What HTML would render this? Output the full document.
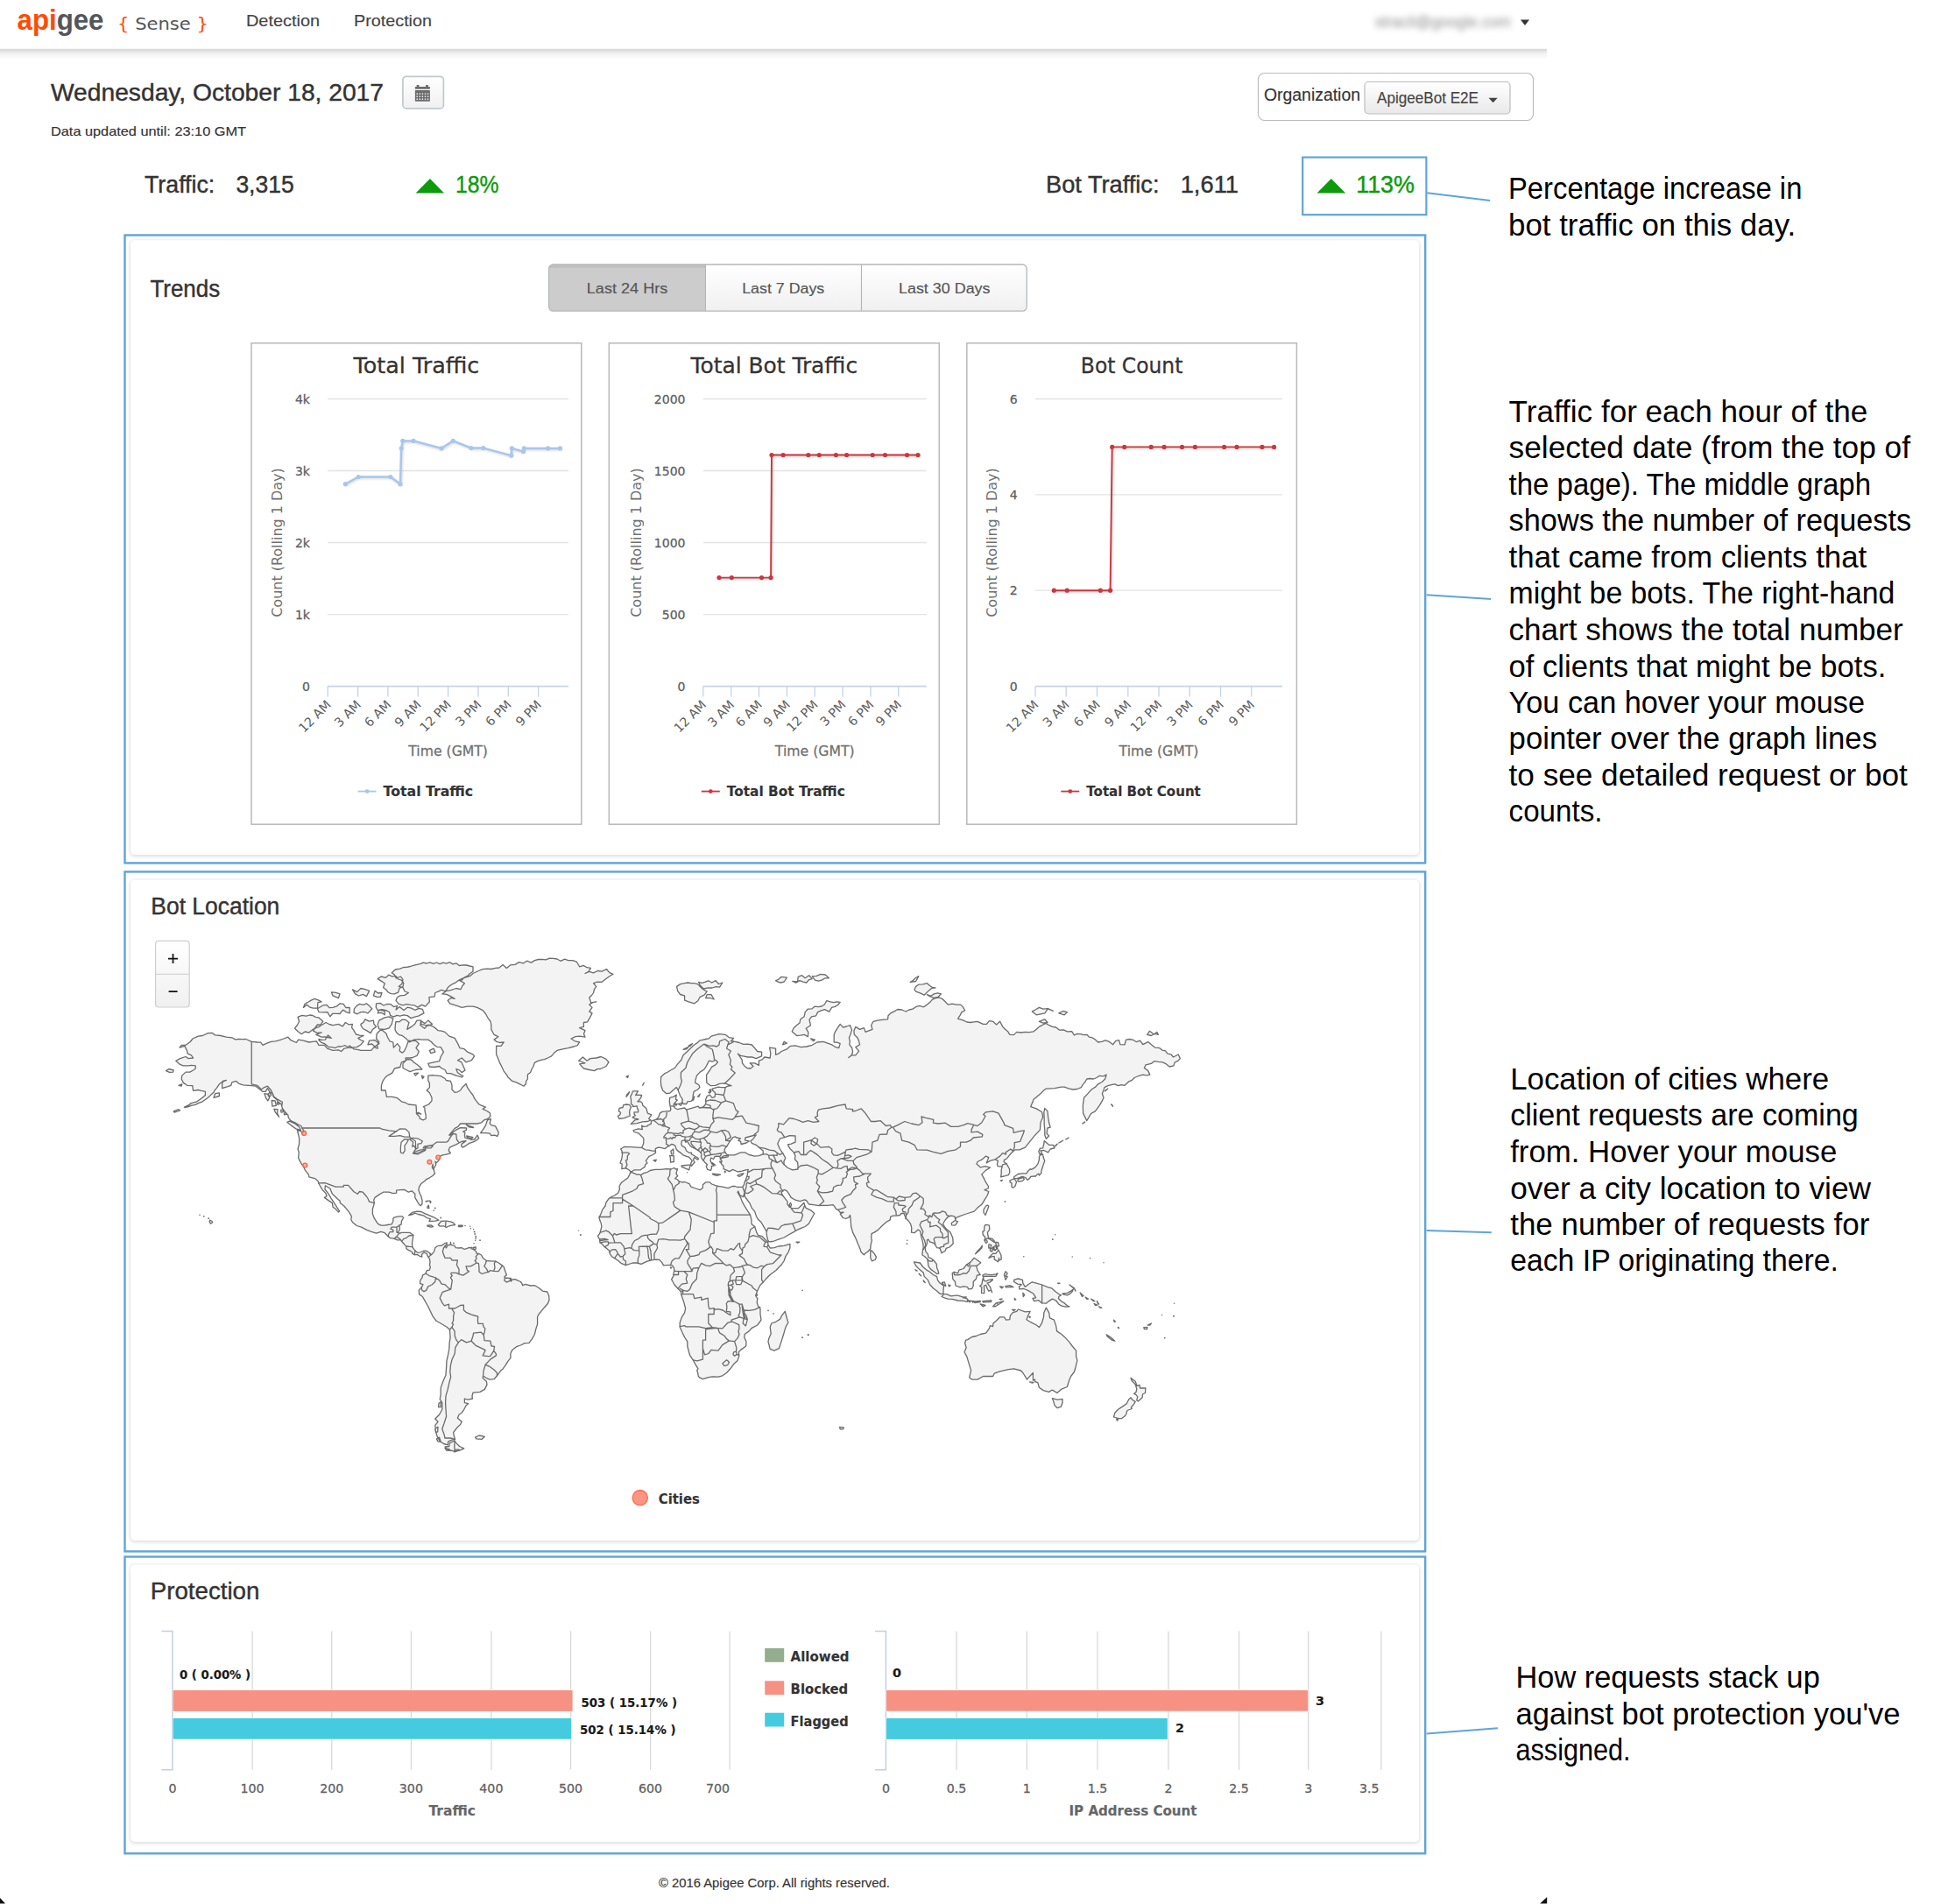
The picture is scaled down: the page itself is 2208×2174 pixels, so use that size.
<!DOCTYPE html>
<html lang="en"><head><meta charset="utf-8"><title>Apigee Sense - Detection</title>
<style>
html,body{margin:0;padding:0;background:#fff;}
body{width:2208px;height:2174px;overflow:hidden;position:relative;}
svg{position:absolute;left:0;top:0;display:block;}
text{white-space:pre;}
.l{font-family:"Liberation Sans", sans-serif;}
.h{font-family:"DejaVu Sans", "Liberation Sans", sans-serif;}
.g{font-family:"Liberation Sans", sans-serif;}
</style></head><body>
<svg width="2208" height="2174" viewBox="0 0 2208 2174">
<defs>
<linearGradient id="navsh" x1="0" y1="0" x2="0" y2="1"><stop offset="0" stop-color="#000" stop-opacity="0.16"/><stop offset="0.45" stop-color="#000" stop-opacity="0.05"/><stop offset="1" stop-color="#000" stop-opacity="0"/></linearGradient>
<linearGradient id="btn" x1="0" y1="0" x2="0" y2="1"><stop offset="0" stop-color="#ffffff"/><stop offset="1" stop-color="#e9e9e9"/></linearGradient>
<linearGradient id="btn2" x1="0" y1="0" x2="0" y2="1"><stop offset="0" stop-color="#ffffff"/><stop offset="1" stop-color="#f0f0f0"/></linearGradient>
<filter id="blur" x="-10%" y="-50%" width="120%" height="200%"><feGaussianBlur stdDeviation="3.8"/></filter>
<filter id="soft" x="-2%" y="-3%" width="104%" height="106%"><feGaussianBlur stdDeviation="2.3"/></filter>
<filter id="lsh" x="-5%" y="-5%" width="110%" height="110%"><feGaussianBlur stdDeviation="0.8"/></filter>
</defs>

<rect x="0.0" y="56.0" width="1766.0" height="12.0" fill="url(#navsh)"/>
<rect x="0.0" y="0.0" width="1766.0" height="56.0" fill="#fff"/>
<line x1="0.0" y1="56.3" x2="1766.0" y2="56.3" stroke="#d9d9d9" stroke-width="1" />
<text class="l" x="19.5" y="33.6" font-size="33" font-weight="bold" textLength="99" lengthAdjust="spacingAndGlyphs"><tspan fill="#fc4c02">api</tspan><tspan fill="#53565a">gee</tspan></text>
<text class="h" x="134.0" y="34.2" font-size="19.4" textLength="104" lengthAdjust="spacingAndGlyphs"><tspan fill="#fc4c02">{</tspan><tspan fill="#53565a"> Sense </tspan><tspan fill="#fc4c02">}</tspan></text>
<text class="l" x="281.0" y="29.8" font-size="18.5" fill="#444" textLength="84.0" lengthAdjust="spacingAndGlyphs" stroke="#444" stroke-width="0.15">Detection</text>
<text class="l" x="404.0" y="29.8" font-size="18.5" fill="#444" textLength="89.0" lengthAdjust="spacingAndGlyphs" stroke="#444" stroke-width="0.15">Protection</text>
<g filter="url(#blur)" opacity="0.62">
<text class="l" x="1570.0" y="31.0" font-size="18.5" fill="#555" textLength="155.0" lengthAdjust="spacingAndGlyphs" stroke="#555" stroke-width="0.15">stracli@google.com</text>
</g>
<path d="M1736 22.5h10l-5 6.5z" fill="#333"/>
<text class="l" x="58.0" y="115.0" font-size="28" fill="#333" textLength="380.0" lengthAdjust="spacingAndGlyphs" stroke="#333" stroke-width="0.42">Wednesday, October 18, 2017</text>
<rect x="459.9" y="87.3" width="46.5" height="36.6" fill="url(#btn2)" stroke="#c2c9cd" stroke-width="1.7" rx="4"/>
<g fill="#6c6c6c"><rect x="473.9" y="98.9" width="17" height="2.8" rx="0.6"/><rect x="475.7" y="97.0" width="2.7" height="3"/><rect x="486.1" y="97.0" width="2.7" height="3"/><rect x="473.9" y="103.1" width="17" height="12.7" rx="0.6"/></g>
<g fill="#fff">
<rect x="475.5" y="106.4" width="1.4" height="1.4"/>
<rect x="478.6" y="106.4" width="1.4" height="1.4"/>
<rect x="481.7" y="106.4" width="1.4" height="1.4"/>
<rect x="484.8" y="106.4" width="1.4" height="1.4"/>
<rect x="487.9" y="106.4" width="1.4" height="1.4"/>
<rect x="475.5" y="109.5" width="1.4" height="1.4"/>
<rect x="478.6" y="109.5" width="1.4" height="1.4"/>
<rect x="481.7" y="109.5" width="1.4" height="1.4"/>
<rect x="484.8" y="109.5" width="1.4" height="1.4"/>
<rect x="487.9" y="109.5" width="1.4" height="1.4"/>
<rect x="475.5" y="112.5" width="1.4" height="1.4"/>
<rect x="478.6" y="112.5" width="1.4" height="1.4"/>
<rect x="481.7" y="112.5" width="1.4" height="1.4"/>
<rect x="484.8" y="112.5" width="1.4" height="1.4"/>
<rect x="487.9" y="112.5" width="1.4" height="1.4"/>
</g>
<text class="l" x="58.0" y="155.0" font-size="14.5" fill="#333" textLength="223.0" lengthAdjust="spacingAndGlyphs" stroke="#333" stroke-width="0.15">Data updated until: 23:10 GMT</text>
<rect x="1436.5" y="83.5" width="314.0" height="54.0" fill="#fff" stroke="#bcbcbc" stroke-width="1.2" rx="7"/>
<text class="l" x="1443.0" y="114.5" font-size="19.5" fill="#333" textLength="110.0" lengthAdjust="spacingAndGlyphs" stroke="#333" stroke-width="0.15">Organization</text>
<rect x="1558.0" y="93.5" width="166.0" height="36.5" fill="url(#btn)" stroke="#bcbcbc" stroke-width="1.2" rx="4.5"/>
<text class="l" x="1572.0" y="117.8" font-size="17.5" fill="#444" textLength="116.0" lengthAdjust="spacingAndGlyphs" stroke="#444" stroke-width="0.15">ApigeeBot E2E</text>
<path d="M1699.5 111.7h10.2l-5.1 5.6z" fill="#444"/>
<text class="l" x="165.0" y="220.3" font-size="27" fill="#333" textLength="80.3" lengthAdjust="spacingAndGlyphs" stroke="#333" stroke-width="0.42">Traffic:</text>
<text class="l" x="269.4" y="220.3" font-size="27" fill="#333" textLength="66.3" lengthAdjust="spacingAndGlyphs" stroke="#333" stroke-width="0.42">3,315</text>
<path d="M474.6 220.6L490.9 204L507.1 220.6z" fill="#0d9b0d"/>
<text class="l" x="520.0" y="220.3" font-size="27" fill="#0d9b0d" textLength="49.5" lengthAdjust="spacingAndGlyphs" stroke="#0d9b0d" stroke-width="0.42">18%</text>
<text class="l" x="1194.0" y="220.3" font-size="27" fill="#333" textLength="129.5" lengthAdjust="spacingAndGlyphs" stroke="#333" stroke-width="0.42">Bot Traffic:</text>
<text class="l" x="1347.7" y="220.3" font-size="27" fill="#333" textLength="66.3" lengthAdjust="spacingAndGlyphs" stroke="#333" stroke-width="0.42">1,611</text>
<rect x="1487.2" y="179.6" width="141.2" height="65.6" fill="none" stroke="#60a4d8" stroke-width="2.2"/>
<path d="M1503.5 220.6L1519.8 204L1536.2 220.6z" fill="#0d9b0d"/>
<text class="l" x="1548.2" y="220.3" font-size="27" fill="#0d9b0d" textLength="66.8" lengthAdjust="spacingAndGlyphs" stroke="#0d9b0d" stroke-width="0.42">113%</text>
<rect x="142.5" y="268.5" width="1484.7" height="716.9" fill="none" stroke="#60a4d8" stroke-width="2.4"/>
<rect x="148.7" y="274.6" width="1471.8" height="702.9" fill="#000" rx="5" opacity="0.15" filter="url(#soft)"/>
<rect x="149.2" y="274.3" width="1470.8" height="701.7" fill="#fff" rx="4.5"/>
<text class="l" x="171.4" y="339.1" font-size="28.4" fill="#333" textLength="79.7" lengthAdjust="spacingAndGlyphs" stroke="#333" stroke-width="0.42">Trends</text>
<rect x="142.5" y="995.4" width="1484.7" height="776.0" fill="none" stroke="#60a4d8" stroke-width="2.4"/>
<rect x="148.7" y="1005.1" width="1471.8" height="755.3" fill="#000" rx="5" opacity="0.15" filter="url(#soft)"/>
<rect x="149.2" y="1004.8" width="1470.8" height="754.1" fill="#fff" rx="4.5"/>
<text class="l" x="172.3" y="1044.4" font-size="28.4" fill="#333" textLength="147.0" lengthAdjust="spacingAndGlyphs" stroke="#333" stroke-width="0.42">Bot Location</text>
<rect x="142.5" y="1777.5" width="1484.7" height="338.8" fill="none" stroke="#60a4d8" stroke-width="2.4"/>
<rect x="148.7" y="1786.8" width="1471.8" height="317.8" fill="#000" rx="5" opacity="0.15" filter="url(#soft)"/>
<rect x="149.2" y="1786.5" width="1470.8" height="316.6" fill="#fff" rx="4.5"/>
<text class="l" x="171.8" y="1825.7" font-size="28.4" fill="#333" textLength="124.6" lengthAdjust="spacingAndGlyphs" stroke="#333" stroke-width="0.42">Protection</text>
<clipPath id="tabclip"><rect x="626.6" y="302.0" width="545.6" height="53.2" rx="5"/></clipPath>
<g clip-path="url(#tabclip)">
<rect x="626.6" y="302.0" width="545.6" height="53.2" fill="url(#btn2)"/>
<rect x="626.6" y="302.0" width="178.8" height="53.2" fill="#cccccc"/>
<rect x="626.6" y="302.0" width="178.8" height="4.0" fill="#000" opacity="0.06"/>
</g>
<rect x="626.6" y="302.0" width="545.6" height="53.2" fill="none" stroke="#b4b8ba" stroke-width="1.3" rx="5"/>
<line x1="805.4" y1="302.0" x2="805.4" y2="355.2" stroke="#b4b8ba" stroke-width="1.2" />
<line x1="983.5" y1="302.0" x2="983.5" y2="355.2" stroke="#b4b8ba" stroke-width="1.2" />
<text class="l" x="669.8" y="334.8" font-size="17.3" fill="#555" textLength="92.5" lengthAdjust="spacingAndGlyphs" stroke="#555" stroke-width="0.15">Last 24 Hrs</text>
<text class="l" x="847.2" y="334.8" font-size="17.3" fill="#555" textLength="94.0" lengthAdjust="spacingAndGlyphs" stroke="#555" stroke-width="0.15">Last 7 Days</text>
<text class="l" x="1026.0" y="334.8" font-size="17.3" fill="#555" textLength="104.5" lengthAdjust="spacingAndGlyphs" stroke="#555" stroke-width="0.15">Last 30 Days</text>
<rect x="287.0" y="391.8" width="376.8" height="549.4" fill="#fff" stroke="#b9b9b9" stroke-width="1.5"/>
<text class="h" x="475.4" y="425.7" font-size="24.5" fill="#333" text-anchor="middle" textLength="143.8" lengthAdjust="spacingAndGlyphs" stroke="#333" stroke-width="0.28">Total Traffic</text>
<line x1="374.2" y1="455.5" x2="649.0" y2="455.5" stroke="#e3e3e3" stroke-width="1.3" />
<text class="h" x="353.9" y="460.7" font-size="14" fill="#606060" text-anchor="end" stroke="#606060" stroke-width="0.28">4k</text>
<line x1="374.2" y1="537.5" x2="649.0" y2="537.5" stroke="#e3e3e3" stroke-width="1.3" />
<text class="h" x="353.9" y="542.7" font-size="14" fill="#606060" text-anchor="end" stroke="#606060" stroke-width="0.28">3k</text>
<line x1="374.2" y1="619.5" x2="649.0" y2="619.5" stroke="#e3e3e3" stroke-width="1.3" />
<text class="h" x="353.9" y="624.8" font-size="14" fill="#606060" text-anchor="end" stroke="#606060" stroke-width="0.28">2k</text>
<line x1="374.2" y1="701.6" x2="649.0" y2="701.6" stroke="#e3e3e3" stroke-width="1.3" />
<text class="h" x="353.9" y="706.8" font-size="14" fill="#606060" text-anchor="end" stroke="#606060" stroke-width="0.28">1k</text>
<text class="h" x="353.9" y="788.8" font-size="14" fill="#606060" text-anchor="end" stroke="#606060" stroke-width="0.28">0</text>
<line x1="374.2" y1="783.6" x2="649.0" y2="783.6" stroke="#c6d3e4" stroke-width="1.6" />
<line x1="374.2" y1="783.6" x2="374.2" y2="795.6" stroke="#c6d3e4" stroke-width="1.3" />
<text class="h" font-size="14.3" fill="#606060" text-anchor="end" transform="translate(378.7,805.6) rotate(-45)">12 AM</text>
<line x1="408.6" y1="783.6" x2="408.6" y2="795.6" stroke="#c6d3e4" stroke-width="1.3" />
<text class="h" font-size="14.3" fill="#606060" text-anchor="end" transform="translate(413.1,805.6) rotate(-45)">3 AM</text>
<line x1="442.9" y1="783.6" x2="442.9" y2="795.6" stroke="#c6d3e4" stroke-width="1.3" />
<text class="h" font-size="14.3" fill="#606060" text-anchor="end" transform="translate(447.4,805.6) rotate(-45)">6 AM</text>
<line x1="477.2" y1="783.6" x2="477.2" y2="795.6" stroke="#c6d3e4" stroke-width="1.3" />
<text class="h" font-size="14.3" fill="#606060" text-anchor="end" transform="translate(481.8,805.6) rotate(-45)">9 AM</text>
<line x1="511.6" y1="783.6" x2="511.6" y2="795.6" stroke="#c6d3e4" stroke-width="1.3" />
<text class="h" font-size="14.3" fill="#606060" text-anchor="end" transform="translate(516.1,805.6) rotate(-45)">12 PM</text>
<line x1="546.0" y1="783.6" x2="546.0" y2="795.6" stroke="#c6d3e4" stroke-width="1.3" />
<text class="h" font-size="14.3" fill="#606060" text-anchor="end" transform="translate(550.5,805.6) rotate(-45)">3 PM</text>
<line x1="580.3" y1="783.6" x2="580.3" y2="795.6" stroke="#c6d3e4" stroke-width="1.3" />
<text class="h" font-size="14.3" fill="#606060" text-anchor="end" transform="translate(584.8,805.6) rotate(-45)">6 PM</text>
<line x1="614.6" y1="783.6" x2="614.6" y2="795.6" stroke="#c6d3e4" stroke-width="1.3" />
<text class="h" font-size="14.3" fill="#606060" text-anchor="end" transform="translate(619.1,805.6) rotate(-45)">9 PM</text>
<text class="h" x="511.6" y="862.6" font-size="16.2" fill="#707070" text-anchor="middle" textLength="90.8" lengthAdjust="spacingAndGlyphs" stroke="#707070" stroke-width="0.28">Time (GMT)</text>
<text class="h" font-size="16.2" fill="#707070" text-anchor="middle" textLength="170.6" lengthAdjust="spacingAndGlyphs" transform="translate(321.8,619.5) rotate(-90)">Count (Rolling 1 Day)</text>
<path d="M394.3 552.7 L409.2 544.5 L445.8 544.5 L457.0 552.7 L458.2 511.9 L459.8 503.4 L472.0 503.4 L504.0 511.9 L517.3 503.4 L538.0 511.6 L551.8 511.6 L583.7 520.1 L584.3 511.9 L597.4 515.5 L598.4 511.9 L625.5 511.9 L639.5 511.9" transform="translate(1,1.3)" fill="none" stroke="#000" stroke-opacity="0.13" stroke-width="3" stroke-linejoin="round" stroke-linecap="round" filter="url(#lsh)"/>
<path d="M394.3 552.7 L409.2 544.5 L445.8 544.5 L457.0 552.7 L458.2 511.9 L459.8 503.4 L472.0 503.4 L504.0 511.9 L517.3 503.4 L538.0 511.6 L551.8 511.6 L583.7 520.1 L584.3 511.9 L597.4 515.5 L598.4 511.9 L625.5 511.9 L639.5 511.9" fill="none" stroke="#a9c6ee" stroke-width="2.5" stroke-linejoin="round" stroke-linecap="round"/>
<circle cx="394.3" cy="552.7" r="2.6" fill="#a9c6ee"/>
<circle cx="409.2" cy="544.5" r="2.6" fill="#a9c6ee"/>
<circle cx="445.8" cy="544.5" r="2.6" fill="#a9c6ee"/>
<circle cx="457.0" cy="552.7" r="2.6" fill="#a9c6ee"/>
<circle cx="458.2" cy="511.9" r="2.6" fill="#a9c6ee"/>
<circle cx="459.8" cy="503.4" r="2.6" fill="#a9c6ee"/>
<circle cx="472.0" cy="503.4" r="2.6" fill="#a9c6ee"/>
<circle cx="504.0" cy="511.9" r="2.6" fill="#a9c6ee"/>
<circle cx="517.3" cy="503.4" r="2.6" fill="#a9c6ee"/>
<circle cx="538.0" cy="511.6" r="2.6" fill="#a9c6ee"/>
<circle cx="551.8" cy="511.6" r="2.6" fill="#a9c6ee"/>
<circle cx="583.7" cy="520.1" r="2.6" fill="#a9c6ee"/>
<circle cx="584.3" cy="511.9" r="2.6" fill="#a9c6ee"/>
<circle cx="597.4" cy="515.5" r="2.6" fill="#a9c6ee"/>
<circle cx="598.4" cy="511.9" r="2.6" fill="#a9c6ee"/>
<circle cx="625.5" cy="511.9" r="2.6" fill="#a9c6ee"/>
<circle cx="639.5" cy="511.9" r="2.6" fill="#a9c6ee"/>
<line x1="408.6" y1="903.6" x2="429.6" y2="903.6" stroke="#a9c6ee" stroke-width="1.8" />
<circle cx="419.1" cy="903.6" r="2.4" fill="#a9c6ee"/>
<text class="h" x="437.6" y="909.3" font-size="16.2" fill="#333" font-weight="bold" textLength="102.6" lengthAdjust="spacingAndGlyphs" stroke="#333" stroke-width="0.15">Total Traffic</text>
<rect x="695.3" y="391.8" width="377.0" height="549.4" fill="#fff" stroke="#b9b9b9" stroke-width="1.5"/>
<text class="h" x="883.8" y="425.7" font-size="24.5" fill="#333" text-anchor="middle" textLength="190.5" lengthAdjust="spacingAndGlyphs" stroke="#333" stroke-width="0.28">Total Bot Traffic</text>
<line x1="802.8" y1="455.5" x2="1057.7" y2="455.5" stroke="#e3e3e3" stroke-width="1.3" />
<text class="h" x="782.5" y="460.7" font-size="14" fill="#606060" text-anchor="end" stroke="#606060" stroke-width="0.28">2000</text>
<line x1="802.8" y1="537.5" x2="1057.7" y2="537.5" stroke="#e3e3e3" stroke-width="1.3" />
<text class="h" x="782.5" y="542.7" font-size="14" fill="#606060" text-anchor="end" stroke="#606060" stroke-width="0.28">1500</text>
<line x1="802.8" y1="619.5" x2="1057.7" y2="619.5" stroke="#e3e3e3" stroke-width="1.3" />
<text class="h" x="782.5" y="624.8" font-size="14" fill="#606060" text-anchor="end" stroke="#606060" stroke-width="0.28">1000</text>
<line x1="802.8" y1="701.6" x2="1057.7" y2="701.6" stroke="#e3e3e3" stroke-width="1.3" />
<text class="h" x="782.5" y="706.8" font-size="14" fill="#606060" text-anchor="end" stroke="#606060" stroke-width="0.28">500</text>
<text class="h" x="782.5" y="788.8" font-size="14" fill="#606060" text-anchor="end" stroke="#606060" stroke-width="0.28">0</text>
<line x1="802.8" y1="783.6" x2="1057.7" y2="783.6" stroke="#c6d3e4" stroke-width="1.6" />
<line x1="802.8" y1="783.6" x2="802.8" y2="795.6" stroke="#c6d3e4" stroke-width="1.3" />
<text class="h" font-size="14.3" fill="#606060" text-anchor="end" transform="translate(807.3,805.6) rotate(-45)">12 AM</text>
<line x1="834.7" y1="783.6" x2="834.7" y2="795.6" stroke="#c6d3e4" stroke-width="1.3" />
<text class="h" font-size="14.3" fill="#606060" text-anchor="end" transform="translate(839.2,805.6) rotate(-45)">3 AM</text>
<line x1="866.5" y1="783.6" x2="866.5" y2="795.6" stroke="#c6d3e4" stroke-width="1.3" />
<text class="h" font-size="14.3" fill="#606060" text-anchor="end" transform="translate(871.0,805.6) rotate(-45)">6 AM</text>
<line x1="898.4" y1="783.6" x2="898.4" y2="795.6" stroke="#c6d3e4" stroke-width="1.3" />
<text class="h" font-size="14.3" fill="#606060" text-anchor="end" transform="translate(902.9,805.6) rotate(-45)">9 AM</text>
<line x1="930.2" y1="783.6" x2="930.2" y2="795.6" stroke="#c6d3e4" stroke-width="1.3" />
<text class="h" font-size="14.3" fill="#606060" text-anchor="end" transform="translate(934.8,805.6) rotate(-45)">12 PM</text>
<line x1="962.1" y1="783.6" x2="962.1" y2="795.6" stroke="#c6d3e4" stroke-width="1.3" />
<text class="h" font-size="14.3" fill="#606060" text-anchor="end" transform="translate(966.6,805.6) rotate(-45)">3 PM</text>
<line x1="994.0" y1="783.6" x2="994.0" y2="795.6" stroke="#c6d3e4" stroke-width="1.3" />
<text class="h" font-size="14.3" fill="#606060" text-anchor="end" transform="translate(998.5,805.6) rotate(-45)">6 PM</text>
<line x1="1025.8" y1="783.6" x2="1025.8" y2="795.6" stroke="#c6d3e4" stroke-width="1.3" />
<text class="h" font-size="14.3" fill="#606060" text-anchor="end" transform="translate(1030.3,805.6) rotate(-45)">9 PM</text>
<text class="h" x="930.2" y="862.6" font-size="16.2" fill="#707070" text-anchor="middle" textLength="90.8" lengthAdjust="spacingAndGlyphs" stroke="#707070" stroke-width="0.28">Time (GMT)</text>
<text class="h" font-size="16.2" fill="#707070" text-anchor="middle" textLength="170.6" lengthAdjust="spacingAndGlyphs" transform="translate(731.8,619.5) rotate(-90)">Count (Rolling 1 Day)</text>
<path d="M821.0 659.6 L835.3 659.6 L869.5 659.6 L880.1 659.6 L881.0 519.5 L894.1 519.5 L922.8 519.5 L935.2 519.5 L954.4 519.5 L966.6 519.5 L996.2 519.5 L1010.5 519.5 L1035.5 519.5 L1048.0 519.5" transform="translate(1,1.3)" fill="none" stroke="#000" stroke-opacity="0.13" stroke-width="3" stroke-linejoin="round" stroke-linecap="round" filter="url(#lsh)"/>
<path d="M821.0 659.6 L835.3 659.6 L869.5 659.6 L880.1 659.6 L881.0 519.5 L894.1 519.5 L922.8 519.5 L935.2 519.5 L954.4 519.5 L966.6 519.5 L996.2 519.5 L1010.5 519.5 L1035.5 519.5 L1048.0 519.5" fill="none" stroke="#c9373f" stroke-width="1.9" stroke-linejoin="round" stroke-linecap="round"/>
<circle cx="821.0" cy="659.6" r="2.6" fill="#c9373f"/>
<circle cx="835.3" cy="659.6" r="2.6" fill="#c9373f"/>
<circle cx="869.5" cy="659.6" r="2.6" fill="#c9373f"/>
<circle cx="880.1" cy="659.6" r="2.6" fill="#c9373f"/>
<circle cx="881.0" cy="519.5" r="2.6" fill="#c9373f"/>
<circle cx="894.1" cy="519.5" r="2.6" fill="#c9373f"/>
<circle cx="922.8" cy="519.5" r="2.6" fill="#c9373f"/>
<circle cx="935.2" cy="519.5" r="2.6" fill="#c9373f"/>
<circle cx="954.4" cy="519.5" r="2.6" fill="#c9373f"/>
<circle cx="966.6" cy="519.5" r="2.6" fill="#c9373f"/>
<circle cx="996.2" cy="519.5" r="2.6" fill="#c9373f"/>
<circle cx="1010.5" cy="519.5" r="2.6" fill="#c9373f"/>
<circle cx="1035.5" cy="519.5" r="2.6" fill="#c9373f"/>
<circle cx="1048.0" cy="519.5" r="2.6" fill="#c9373f"/>
<line x1="800.8" y1="903.6" x2="821.8" y2="903.6" stroke="#c9373f" stroke-width="1.8" />
<circle cx="811.3" cy="903.6" r="2.4" fill="#c9373f"/>
<text class="h" x="829.8" y="909.3" font-size="16.2" fill="#333" font-weight="bold" textLength="135.0" lengthAdjust="spacingAndGlyphs" stroke="#333" stroke-width="0.15">Total Bot Traffic</text>
<rect x="1103.8" y="391.8" width="376.6" height="549.4" fill="#fff" stroke="#b9b9b9" stroke-width="1.5"/>
<text class="h" x="1292.1" y="425.7" font-size="24.5" fill="#333" text-anchor="middle" textLength="116.5" lengthAdjust="spacingAndGlyphs" stroke="#333" stroke-width="0.28">Bot Count</text>
<line x1="1182.0" y1="455.5" x2="1464.0" y2="455.5" stroke="#e3e3e3" stroke-width="1.3" />
<text class="h" x="1161.7" y="460.7" font-size="14" fill="#606060" text-anchor="end" stroke="#606060" stroke-width="0.28">6</text>
<line x1="1182.0" y1="564.9" x2="1464.0" y2="564.9" stroke="#e3e3e3" stroke-width="1.3" />
<text class="h" x="1161.7" y="570.1" font-size="14" fill="#606060" text-anchor="end" stroke="#606060" stroke-width="0.28">4</text>
<line x1="1182.0" y1="674.2" x2="1464.0" y2="674.2" stroke="#e3e3e3" stroke-width="1.3" />
<text class="h" x="1161.7" y="679.4" font-size="14" fill="#606060" text-anchor="end" stroke="#606060" stroke-width="0.28">2</text>
<text class="h" x="1161.7" y="788.8" font-size="14" fill="#606060" text-anchor="end" stroke="#606060" stroke-width="0.28">0</text>
<line x1="1182.0" y1="783.6" x2="1464.0" y2="783.6" stroke="#c6d3e4" stroke-width="1.6" />
<line x1="1182.0" y1="783.6" x2="1182.0" y2="795.6" stroke="#c6d3e4" stroke-width="1.3" />
<text class="h" font-size="14.3" fill="#606060" text-anchor="end" transform="translate(1186.5,805.6) rotate(-45)">12 AM</text>
<line x1="1217.2" y1="783.6" x2="1217.2" y2="795.6" stroke="#c6d3e4" stroke-width="1.3" />
<text class="h" font-size="14.3" fill="#606060" text-anchor="end" transform="translate(1221.8,805.6) rotate(-45)">3 AM</text>
<line x1="1252.5" y1="783.6" x2="1252.5" y2="795.6" stroke="#c6d3e4" stroke-width="1.3" />
<text class="h" font-size="14.3" fill="#606060" text-anchor="end" transform="translate(1257.0,805.6) rotate(-45)">6 AM</text>
<line x1="1287.8" y1="783.6" x2="1287.8" y2="795.6" stroke="#c6d3e4" stroke-width="1.3" />
<text class="h" font-size="14.3" fill="#606060" text-anchor="end" transform="translate(1292.2,805.6) rotate(-45)">9 AM</text>
<line x1="1323.0" y1="783.6" x2="1323.0" y2="795.6" stroke="#c6d3e4" stroke-width="1.3" />
<text class="h" font-size="14.3" fill="#606060" text-anchor="end" transform="translate(1327.5,805.6) rotate(-45)">12 PM</text>
<line x1="1358.2" y1="783.6" x2="1358.2" y2="795.6" stroke="#c6d3e4" stroke-width="1.3" />
<text class="h" font-size="14.3" fill="#606060" text-anchor="end" transform="translate(1362.8,805.6) rotate(-45)">3 PM</text>
<line x1="1393.5" y1="783.6" x2="1393.5" y2="795.6" stroke="#c6d3e4" stroke-width="1.3" />
<text class="h" font-size="14.3" fill="#606060" text-anchor="end" transform="translate(1398.0,805.6) rotate(-45)">6 PM</text>
<line x1="1428.8" y1="783.6" x2="1428.8" y2="795.6" stroke="#c6d3e4" stroke-width="1.3" />
<text class="h" font-size="14.3" fill="#606060" text-anchor="end" transform="translate(1433.2,805.6) rotate(-45)">9 PM</text>
<text class="h" x="1323.0" y="862.6" font-size="16.2" fill="#707070" text-anchor="middle" textLength="90.8" lengthAdjust="spacingAndGlyphs" stroke="#707070" stroke-width="0.28">Time (GMT)</text>
<text class="h" font-size="16.2" fill="#707070" text-anchor="middle" textLength="170.6" lengthAdjust="spacingAndGlyphs" transform="translate(1138.1,619.5) rotate(-90)">Count (Rolling 1 Day)</text>
<path d="M1203.3 674.2 L1218.2 674.2 L1256.3 674.2 L1267.6 674.2 L1269.7 510.4 L1283.7 510.4 L1314.2 510.4 L1329.1 510.4 L1349.5 510.4 L1364.4 510.4 L1397.6 510.4 L1412.0 510.4 L1440.9 510.4 L1454.6 510.4" transform="translate(1,1.3)" fill="none" stroke="#000" stroke-opacity="0.13" stroke-width="3" stroke-linejoin="round" stroke-linecap="round" filter="url(#lsh)"/>
<path d="M1203.3 674.2 L1218.2 674.2 L1256.3 674.2 L1267.6 674.2 L1269.7 510.4 L1283.7 510.4 L1314.2 510.4 L1329.1 510.4 L1349.5 510.4 L1364.4 510.4 L1397.6 510.4 L1412.0 510.4 L1440.9 510.4 L1454.6 510.4" fill="none" stroke="#c9373f" stroke-width="1.9" stroke-linejoin="round" stroke-linecap="round"/>
<circle cx="1203.3" cy="674.2" r="2.6" fill="#c9373f"/>
<circle cx="1218.2" cy="674.2" r="2.6" fill="#c9373f"/>
<circle cx="1256.3" cy="674.2" r="2.6" fill="#c9373f"/>
<circle cx="1267.6" cy="674.2" r="2.6" fill="#c9373f"/>
<circle cx="1269.7" cy="510.4" r="2.6" fill="#c9373f"/>
<circle cx="1283.7" cy="510.4" r="2.6" fill="#c9373f"/>
<circle cx="1314.2" cy="510.4" r="2.6" fill="#c9373f"/>
<circle cx="1329.1" cy="510.4" r="2.6" fill="#c9373f"/>
<circle cx="1349.5" cy="510.4" r="2.6" fill="#c9373f"/>
<circle cx="1364.4" cy="510.4" r="2.6" fill="#c9373f"/>
<circle cx="1397.6" cy="510.4" r="2.6" fill="#c9373f"/>
<circle cx="1412.0" cy="510.4" r="2.6" fill="#c9373f"/>
<circle cx="1440.9" cy="510.4" r="2.6" fill="#c9373f"/>
<circle cx="1454.6" cy="510.4" r="2.6" fill="#c9373f"/>
<line x1="1211.3" y1="903.6" x2="1232.3" y2="903.6" stroke="#c9373f" stroke-width="1.8" />
<circle cx="1221.8" cy="903.6" r="2.4" fill="#c9373f"/>
<text class="h" x="1240.3" y="909.3" font-size="16.2" fill="#333" font-weight="bold" textLength="130.5" lengthAdjust="spacingAndGlyphs" stroke="#333" stroke-width="0.15">Total Bot Count</text>
<g fill="#f3f3f3" stroke="#6b6b6b" stroke-width="1.3" stroke-linejoin="round" stroke-linecap="round">
<path d="M237.6 1179.6L242.0 1179.3L245.6 1181.9L252.0 1182.5L258.4 1184.2L264.8 1184.8L268.5 1186.9L272.8 1186.5L276.8 1186.7L280.8 1186.5L287.2 1189.4L293.6 1190.0L297.6 1190.2L300.0 1193.3L304.8 1191.1L309.6 1189.4L314.4 1188.8L319.2 1187.7L324.0 1186.0L328.8 1184.2L332.0 1187.7L338.4 1190.5L340.6 1187.1L346.4 1188.2L352.8 1190.0L357.0 1189.4L361.3 1188.8L364.0 1193.3L370.4 1193.3L373.6 1197.2L380.0 1199.4L386.4 1198.9L389.6 1200.5L392.8 1197.2L396.0 1196.7L399.2 1193.9L404.0 1197.8L408.1 1198.3L412.0 1199.4L418.4 1199.4L423.8 1199.4L427.0 1195.6L431.2 1197.2L430.6 1193.3L432.8 1190.0L429.6 1186.0L430.2 1180.2L434.4 1176.0L436.6 1176.6L441.1 1180.2L442.4 1184.2L445.0 1188.8L448.8 1190.0L449.4 1196.1L453.6 1191.6L456.8 1195.6L456.2 1200.0L459.4 1202.1L461.6 1200.0L464.2 1194.4L466.4 1188.2L470.4 1188.7L474.4 1188.2L478.2 1191.6L475.0 1196.7L478.2 1200.5L476.0 1205.4L471.2 1207.5L468.0 1208.0L463.2 1208.0L463.2 1211.2L458.4 1212.8L456.8 1218.5L450.4 1220.0L447.8 1225.1L442.4 1228.1L439.2 1231.0L436.6 1235.4L435.4 1239.7L435.4 1245.0L440.2 1245.0L440.8 1248.7L441.4 1252.4L447.8 1252.4L453.6 1253.7L458.4 1257.8L463.2 1259.2L466.4 1261.0L475.0 1261.9L475.4 1267.6L475.4 1271.5L479.2 1275.4L479.2 1277.1L483.0 1278.8L486.2 1277.5L486.2 1273.3L485.0 1268.5L485.0 1265.4L483.4 1263.6L489.4 1261.0L493.0 1256.9L493.0 1253.3L490.4 1247.8L487.2 1245.0L490.4 1241.6L490.4 1236.9L488.8 1233.5L488.8 1228.1L493.6 1227.6L498.4 1228.1L503.2 1228.6L508.0 1231.5L509.3 1233.5L514.4 1234.4L516.0 1239.3L516.0 1244.0L519.2 1247.3L522.4 1246.8L525.6 1245.0L527.8 1241.6L530.4 1239.3L532.0 1237.3L533.6 1241.6L536.8 1246.4L540.0 1250.5L541.6 1254.2L544.8 1258.3L547.0 1261.0L551.2 1262.8L554.4 1264.1L551.2 1266.3L556.0 1268.5L559.5 1271.1L559.8 1274.5L557.6 1277.1L552.8 1278.8L549.6 1281.8L544.8 1283.0L540.0 1283.0L535.2 1283.0L530.4 1283.0L525.6 1283.0L523.0 1286.4L519.2 1288.4L516.0 1292.1L512.8 1296.2L514.4 1296.2L517.6 1292.5L520.8 1290.1L525.6 1287.6L532.6 1288.0L532.6 1290.1L528.8 1292.1L531.0 1293.3L530.4 1296.2L531.0 1299.0L535.2 1300.2L538.4 1301.4L541.6 1301.0L543.2 1299.0L544.8 1296.2L546.7 1299.4L545.4 1301.0L541.6 1303.4L535.2 1305.7L532.0 1308.1L528.2 1310.1L526.6 1308.5L527.2 1306.1L532.0 1302.6L527.2 1303.4L524.0 1305.0L520.8 1306.9L517.6 1308.1L513.4 1310.1L512.2 1313.5L514.4 1316.6L509.6 1318.2L505.4 1318.9L502.6 1320.1L501.6 1321.6L501.0 1325.0L498.4 1327.6L496.8 1326.1L497.8 1329.8L495.5 1333.9L494.2 1334.7L494.2 1329.1L493.3 1332.8L495.2 1335.4L496.5 1340.1L493.6 1342.7L490.4 1344.8L487.2 1346.3L484.6 1348.8L480.8 1351.6L478.6 1355.2L477.9 1358.7L479.5 1363.3L480.8 1365.7L482.1 1370.9L481.8 1375.3L479.8 1376.7L478.2 1374.6L476.6 1372.2L473.8 1367.4L473.8 1363.3L470.2 1359.8L466.4 1361.2L461.6 1358.4L456.8 1358.7L452.6 1359.1L452.6 1362.2L448.8 1362.6L444.0 1361.2L437.6 1361.2L433.4 1363.6L428.0 1367.4L426.7 1370.2L427.4 1373.6L425.4 1380.4L425.4 1386.2L427.4 1391.2L430.6 1396.2L432.8 1398.2L435.0 1399.2L439.2 1399.2L442.4 1398.5L447.2 1397.8L448.8 1394.5L448.8 1391.2L449.8 1390.2L455.2 1388.8L459.4 1388.8L460.6 1390.5L458.4 1394.5L458.1 1398.2L455.8 1399.2L456.5 1402.1L455.8 1405.4L453.9 1407.4L456.8 1408.1L458.4 1407.4L463.2 1407.4L468.0 1407.4L471.8 1410.3L471.2 1415.2L470.6 1418.5L470.6 1421.7L470.9 1424.0L472.8 1426.6L475.0 1429.2L477.6 1430.5L480.8 1429.5L484.0 1428.2L487.2 1428.5L490.7 1430.8L491.4 1433.4L489.1 1435.6L487.8 1433.4L487.2 1431.4L484.0 1430.1L481.4 1432.4L481.8 1435.0L479.2 1434.3L476.0 1432.4L473.1 1432.7L470.6 1431.1L470.9 1429.8L467.4 1427.9L465.8 1427.2L463.8 1425.6L463.8 1423.4L461.6 1420.8L458.4 1417.2L457.8 1415.9L453.6 1415.9L450.1 1414.3L445.6 1413.6L443.4 1412.0L439.2 1407.7L435.0 1406.4L429.6 1408.1L423.2 1406.1L418.7 1404.4L412.6 1401.1L407.2 1399.5L402.4 1395.5L400.8 1392.5L401.4 1388.8L397.9 1383.1L392.8 1377.0L388.3 1373.6L388.0 1370.9L384.8 1368.5L383.2 1366.7L379.4 1363.3L376.8 1357.0L371.4 1353.8L371.0 1358.0L375.2 1363.3L377.8 1367.8L381.6 1373.6L384.8 1378.7L387.7 1383.1L386.4 1384.1L383.8 1381.1L380.0 1378.0L379.4 1373.6L375.2 1370.9L370.4 1367.4L373.0 1365.7L372.0 1362.6L368.2 1358.7L365.3 1353.8L363.7 1350.9L363.0 1348.4L359.5 1345.6L356.6 1344.8L352.8 1343.8L352.2 1340.9L348.3 1336.1L346.4 1331.7L344.8 1329.8L342.2 1325.4L340.6 1322.0L341.3 1315.9L340.0 1312.0L341.6 1306.1L341.6 1299.4L339.4 1290.5L343.2 1291.3L345.8 1293.7L346.7 1290.9L344.8 1288.0L343.8 1285.5L340.0 1283.9L336.8 1281.8L332.0 1279.7L329.4 1276.3L328.8 1273.3L325.6 1269.8L322.4 1265.4L320.8 1260.1L317.6 1259.2L316.0 1255.6L312.2 1252.4L311.2 1248.7L308.0 1246.8L305.4 1242.6L303.2 1246.4L300.0 1246.4L296.8 1244.0L292.0 1240.2L287.2 1239.7L284.0 1239.3L277.6 1238.8L272.8 1237.3L269.6 1234.4L264.8 1235.9L263.8 1239.3L260.0 1240.7L253.6 1242.6L253.6 1238.3L254.2 1234.4L258.4 1233.5L253.6 1235.4L250.4 1237.8L247.2 1242.6L245.0 1245.0L244.0 1247.3L240.8 1250.1L237.6 1253.3L231.2 1257.8L226.4 1259.6L223.2 1261.4L218.4 1262.3L215.2 1263.6L211.0 1264.5L215.2 1261.9L218.4 1259.6L224.8 1257.8L231.2 1253.3L234.4 1250.5L234.4 1246.4L229.6 1245.4L226.4 1244.5L220.6 1245.4L220.0 1241.6L220.0 1239.7L213.6 1239.3L209.4 1236.4L207.2 1232.0L207.8 1228.1L210.4 1225.6L212.0 1224.1L216.8 1224.1L220.6 1222.0L223.2 1220.0L223.2 1216.9L218.4 1216.4L215.2 1216.9L209.1 1216.9L205.6 1215.4L200.8 1211.2L205.6 1208.6L212.0 1206.5L215.2 1208.6L220.6 1208.0L218.4 1204.8L214.2 1203.2L213.6 1200.0L210.9 1194.4L205.0 1196.1L207.2 1193.3L212.0 1193.3L216.8 1190.0L220.0 1186.0L226.4 1183.1L231.2 1182.5Z M343.5 1290.5L338.4 1289.2L333.6 1285.9L327.8 1281.3L330.4 1280.1L336.8 1283.0L341.6 1286.8Z M318.6 1275.4L314.4 1270.2L312.8 1266.3L317.0 1266.7L316.6 1271.1Z M310.9 1263.2L315.4 1262.3L314.1 1256.9L310.2 1256.5Z M305.8 1256.9L307.7 1253.3L305.4 1249.1L301.9 1248.7L303.5 1253.3Z M307.7 1252.4L309.6 1250.5L308.0 1247.3L306.4 1249.1Z M317.0 1261.4L319.2 1260.5L318.6 1258.3L316.3 1259.2Z M321.1 1270.2L323.7 1269.4L322.7 1266.7L320.5 1267.6Z M324.6 1272.8L326.9 1272.4L325.9 1270.2L324.3 1271.1Z M250.4 1251.5L244.0 1253.3L245.6 1248.7L250.4 1247.8Z M210.4 1264.1L215.8 1263.2L214.2 1262.3Z M199.2 1270.2L205.6 1268.0L204.0 1266.7L198.2 1268.9Z M204.0 1239.3L207.8 1237.8L207.2 1240.2Z M189.6 1222.6L193.4 1224.4L197.6 1224.1L198.2 1222.0L192.8 1220.5Z M548.6 1293.7L551.2 1290.1L554.4 1285.1L556.6 1278.8L560.5 1277.5L559.2 1282.6L560.8 1284.7L565.6 1285.9L567.8 1290.1L569.4 1293.7L567.8 1297.4L564.6 1296.2L560.8 1296.6L559.2 1294.1L554.4 1293.7Z M532.3 1284.3L540.0 1286.8L540.6 1287.6L535.2 1286.8Z M532.6 1297.0L540.0 1298.6L538.1 1300.2L534.2 1299.0Z M466.7 1387.5L471.2 1384.1L476.0 1383.1L480.8 1383.5L485.6 1385.8L490.4 1387.8L495.2 1389.8L501.0 1393.2L496.8 1394.2L489.8 1394.5L491.4 1391.9L487.2 1390.5L484.0 1388.2L477.6 1386.5L473.4 1385.1L471.2 1386.5Z M487.8 1399.2L492.0 1398.8L494.6 1400.5L492.0 1401.1L488.2 1400.2Z M500.3 1398.5L503.5 1394.5L506.4 1394.2L509.6 1394.2L514.4 1394.8L517.6 1396.2L519.5 1398.5L516.0 1399.2L512.8 1399.8L509.6 1401.5L506.4 1399.8L502.2 1400.2Z M523.4 1399.2L528.2 1399.2L527.8 1400.5L523.4 1400.5Z M488.2 1377.4L489.4 1376.3L489.8 1379.7L487.8 1379.1Z M485.9 1371.6L489.4 1371.2L487.5 1371.9Z M490.7 1370.9L492.0 1372.2L491.4 1373.6Z M540.3 1424.3L543.2 1424.0L543.2 1426.3L540.3 1426.3Z M527.2 1230.0L520.8 1228.1L514.4 1225.6L510.0 1225.5L508.0 1221.5L504.5 1220.0L501.6 1217.5L495.2 1218.5L490.4 1218.0L488.8 1214.4L495.2 1212.8L501.6 1211.7L503.2 1206.5L506.4 1201.1L503.2 1195.6L498.8 1195.3L495.2 1192.8L492.3 1189.5L488.8 1187.1L482.4 1187.1L477.6 1186.7L472.8 1187.1L467.3 1189.9L463.2 1185.4L459.5 1182.7L455.2 1181.3L452.5 1178.8L451.0 1175.4L451.3 1170.8L452.0 1166.3L455.9 1166.8L459.3 1164.1L463.2 1164.4L467.0 1167.5L465.8 1171.5L464.8 1175.4L469.6 1172.4L473.5 1169.3L476.0 1165.1L480.8 1165.1L479.8 1170.6L484.6 1174.3L488.8 1170.0L495.2 1172.4L500.0 1176.6L504.1 1177.2L508.0 1178.4L512.8 1183.1L519.2 1185.4L522.4 1191.1L525.0 1196.7L529.9 1197.7L533.6 1201.1L540.0 1203.8L541.6 1205.9L538.4 1210.7L532.0 1212.8L527.2 1208.0L522.4 1210.7L526.8 1212.6L528.8 1216.9L531.0 1222.0L527.2 1224.6L524.4 1221.9L520.8 1220.5L522.3 1224.4L525.6 1227.1L528.8 1228.6Z M364.0 1187.7L366.8 1190.3L370.4 1191.6L375.2 1195.6L378.8 1195.7L382.4 1196.6L386.0 1195.0L389.6 1195.0L394.0 1193.7L398.1 1196.3L402.4 1196.1L407.6 1195.6L412.0 1192.8L415.2 1188.8L411.8 1187.5L408.8 1185.4L415.2 1182.5L410.6 1182.1L406.4 1181.0L404.0 1176.6L401.6 1173.4L402.4 1169.4L398.1 1169.8L394.4 1167.5L391.2 1171.8L386.4 1169.4L380.0 1170.6L375.9 1169.5L372.0 1167.5L367.6 1170.3L362.4 1170.0L359.8 1173.5L357.6 1177.2L362.2 1179.3L367.2 1179.0L360.8 1181.3L367.2 1184.2L371.0 1183.8L374.7 1184.5L378.4 1185.4L374.5 1181.9L371.3 1187.2L367.7 1187.3L364.0 1186.5Z M336.5 1174.2L340.1 1177.7L344.2 1180.7L348.1 1178.0L352.8 1179.0L356.5 1175.9L360.8 1173.6L365.1 1172.2L367.2 1168.2L368.8 1166.3L364.0 1161.9L360.4 1161.4L357.0 1159.5L353.4 1159.0L349.6 1160.1L344.6 1159.3L340.0 1161.3L341.6 1166.3L339.4 1170.5Z M364.0 1155.6L368.8 1155.9L373.9 1155.6L376.8 1160.7L379.9 1157.3L383.9 1157.3L388.0 1157.5L391.5 1153.1L395.4 1155.6L399.2 1156.9L399.2 1150.4L394.8 1150.5L392.1 1146.4L388.0 1145.8L384.5 1148.9L380.0 1150.4L376.0 1150.6L372.8 1147.3L368.8 1147.8L365.7 1149.8L362.4 1151.7Z M346.4 1150.4L350.3 1147.2L353.9 1150.2L357.6 1151.1L362.5 1150.8L362.9 1144.7L367.2 1143.8L363.3 1141.8L359.2 1140.4L355.3 1142.1L351.7 1144.3L348.0 1146.4Z M404.0 1156.2L407.9 1157.8L412.0 1155.6L416.1 1155.5L420.0 1156.9L424.8 1151.7L421.7 1148.6L418.4 1145.8L414.8 1147.3L410.7 1146.4L407.2 1148.4L404.4 1151.8Z M412.0 1170.6L414.4 1174.5L418.4 1176.6L423.2 1179.6L425.6 1175.3L429.6 1172.4L426.9 1169.2L426.4 1165.1L421.4 1166.2L416.8 1163.8L415.1 1167.2L412.0 1169.4Z M432.8 1174.8L439.2 1175.4L444.2 1173.8L447.2 1169.4L448.8 1163.2L444.2 1160.9L439.2 1161.9L432.8 1165.1L431.1 1169.9Z M484.0 1156.9L477.6 1160.1L473.4 1161.1L469.3 1162.6L465.1 1159.6L461.0 1158.8L456.8 1160.1L453.1 1159.3L449.2 1161.2L445.6 1159.4L444.4 1155.5L440.8 1153.7L436.0 1152.7L431.2 1153.7L429.2 1150.0L429.6 1145.8L433.9 1145.4L438.0 1148.0L442.4 1146.4L446.2 1146.7L449.5 1149.6L453.6 1148.4L452.0 1153.0L456.1 1149.4L461.0 1153.6L465.1 1150.2L469.6 1151.1L473.7 1153.3L478.2 1151.4L482.4 1152.4Z M485.6 1149.1L490.4 1143.8L489.9 1138.7L496.2 1137.8L496.8 1133.5L500.4 1132.1L503.9 1130.4L508.6 1131.8L511.2 1127.8L513.9 1125.2L517.1 1123.4L520.4 1121.8L523.3 1119.6L527.2 1119.1L530.1 1116.2L533.8 1114.4L536.6 1111.5L540.0 1109.2L540.0 1103.8L536.2 1103.0L532.4 1102.0L528.4 1101.9L524.3 1102.5L520.8 1099.8L517.0 1100.9L513.4 1098.7L509.6 1100.1L505.9 1099.1L502.1 1100.7L498.4 1099.0L494.8 1100.4L490.8 1098.8L487.2 1100.0L483.3 1099.1L479.7 1100.6L476.0 1101.4L472.1 1102.3L468.4 1103.5L464.5 1104.3L460.5 1104.5L456.8 1106.1L451.3 1107.0L447.2 1110.8L450.3 1112.9L452.2 1117.0L457.5 1115.2L460.0 1118.3L459.0 1123.2L455.2 1126.4L459.8 1127.4L462.1 1132.0L466.4 1133.5L462.0 1136.4L456.8 1136.9L453.4 1138.8L452.0 1142.4L455.2 1146.3L460.0 1147.8L464.3 1146.7L468.5 1147.4L472.8 1147.8L476.9 1150.1L481.5 1147.4Z M439.2 1122.7L435.2 1120.1L431.2 1117.6L435.1 1115.0L440.4 1116.3L444.0 1113.1L447.5 1114.8L451.9 1114.4L454.6 1118.0L458.4 1119.1L460.8 1122.4L460.0 1126.4L456.1 1128.4L454.6 1133.2L450.4 1134.9L446.4 1134.6L443.1 1133.0L440.7 1129.8L437.6 1127.8Z M405.6 1134.9L409.6 1137.0L414.4 1135.4L418.4 1137.6L421.6 1131.4L416.9 1129.7L412.0 1128.5L407.7 1132.6L402.4 1129.9Z M426.4 1136.9L430.3 1138.3L434.4 1138.3L436.0 1133.5L431.6 1134.0L428.0 1131.4Z M380.0 1136.9L386.4 1139.7L388.0 1134.9L383.3 1133.3L378.4 1132.8Z M431.2 1156.9L435.6 1156.3L439.2 1158.8L439.2 1154.3L432.8 1153.0Z M460.0 1214.4L464.8 1209.6L469.5 1210.0L472.8 1213.3L476.1 1215.5L479.2 1218.0L481.8 1221.0L478.1 1221.1L474.4 1221.5L468.0 1223.6L464.8 1222.0L460.0 1219.5Z M472.8 1225.6L477.6 1225.1L474.4 1228.1Z M481.4 1228.1L484.0 1229.5L482.4 1231.5Z M420.0 1192.8L424.5 1192.0L428.0 1195.0L432.8 1191.6L428.0 1187.7L421.6 1188.2Z M492.0 1202.7L496.8 1201.1L495.2 1197.2L490.4 1199.4Z M480.8 1169.4L484.8 1170.4L488.8 1171.2L493.6 1169.4L488.8 1165.1L485.1 1168.6L480.8 1165.7Z M476.0 1271.1L480.8 1272.0L477.6 1270.2Z M597.9 1240.2L594.4 1238.3L589.6 1235.9L584.8 1234.4L580.0 1230.0L578.4 1227.1L575.2 1223.1L573.6 1219.5L571.0 1214.4L568.8 1209.1L566.6 1203.8L566.6 1199.4L566.7 1194.2L572.0 1194.4L575.2 1190.0L570.4 1190.5L566.9 1189.4L564.0 1187.1L568.8 1183.7L564.0 1181.3L560.8 1175.4L560.8 1170.6L560.1 1166.5L557.6 1163.2L554.4 1157.5L551.2 1153.7L544.8 1150.4L540.0 1149.1L533.6 1149.1L527.2 1150.4L522.4 1148.7L517.6 1147.1L513.6 1145.8L511.2 1142.4L514.7 1139.4L519.2 1140.4L514.4 1137.6L509.8 1135.4L504.8 1134.9L509.1 1131.7L514.4 1130.6L520.8 1128.5L525.9 1129.7L527.8 1125.7L530.4 1122.7L527.2 1120.9L524.0 1119.1L528.7 1116.8L533.6 1115.3L537.2 1114.1L540.0 1111.5L546.4 1108.5L551.1 1106.7L556.0 1106.1L560.9 1106.5L565.6 1105.4L569.9 1105.0L574.1 1101.6L578.4 1105.4L582.6 1101.9L588.0 1101.4L592.5 1098.6L597.6 1099.8L601.5 1097.2L606.5 1099.1L610.4 1096.6L614.6 1095.5L618.9 1095.3L623.2 1095.8L627.4 1094.2L631.7 1094.4L636.0 1095.0L640.0 1097.3L644.7 1095.1L648.8 1096.6L653.7 1096.7L658.4 1098.2L661.6 1103.8L666.1 1102.4L670.1 1104.7L674.4 1105.4L672.0 1109.3L668.0 1111.5L672.7 1109.3L677.6 1110.8L682.2 1108.5L687.2 1109.2L692.4 1106.5L695.9 1110.6L700.0 1112.3L695.8 1114.7L692.0 1117.6L687.2 1121.3L682.3 1121.1L677.6 1122.7L680.8 1126.4L678.5 1129.6L677.6 1133.5L675.5 1136.5L672.8 1139.0L674.7 1144.9L680.8 1143.8L676.5 1144.6L672.8 1147.1L676.0 1150.4L672.8 1154.9L676.0 1156.9L672.8 1163.2L670.6 1166.8L666.4 1167.5L666.4 1172.4L661.6 1173.6L668.0 1176.6L666.5 1180.4L668.0 1184.2L661.6 1183.1L656.8 1183.7L652.0 1186.0L656.5 1188.8L661.6 1190.0L659.2 1193.6L655.2 1195.0L648.8 1196.7L642.4 1197.8L636.0 1199.4L632.8 1202.1L629.6 1205.9L626.4 1207.5L621.6 1209.6L618.4 1210.2L613.6 1211.7L610.4 1213.3L608.8 1218.0L607.2 1220.5L605.6 1224.6L602.4 1227.1L602.4 1232.0L600.8 1234.4L600.2 1237.8Z M666.4 1220.0L661.6 1214.9L668.0 1213.8L664.3 1212.5L660.6 1211.2L665.4 1207.0L670.2 1211.2L673.8 1208.6L680.8 1208.0L686.2 1206.5L691.7 1209.1L694.9 1212.8L692.0 1217.5L685.6 1220.5L681.8 1220.6L678.6 1222.6L672.8 1221.5Z M490.7 1430.8L492.6 1432.7L494.2 1430.8L495.8 1428.5L496.8 1424.7L499.0 1423.0L501.0 1422.4L503.8 1422.4L506.4 1420.8L508.0 1419.5L510.2 1418.8L509.9 1421.1L508.3 1422.7L509.3 1425.0L510.2 1423.7L511.2 1421.7L513.8 1421.7L514.4 1419.5L515.4 1421.7L518.2 1422.1L519.8 1423.4L520.2 1424.7L524.0 1425.0L527.2 1424.7L529.8 1426.3L532.0 1425.9L535.2 1424.7L539.0 1424.3L537.4 1425.3L540.6 1426.6L543.8 1429.2L543.8 1431.1L546.4 1431.4L549.6 1433.0L551.5 1436.6L555.4 1439.5L559.8 1439.8L565.6 1440.1L569.4 1442.0L573.0 1444.6L575.2 1446.5L577.1 1452.3L578.4 1455.8L575.8 1458.1L576.8 1459.3L583.2 1459.3L583.5 1463.2L584.8 1460.9L588.0 1460.6L591.2 1462.2L594.4 1463.5L596.0 1465.7L596.6 1467.7L599.8 1466.4L605.6 1468.0L610.4 1467.7L615.2 1470.5L619.4 1474.1L624.8 1475.0L626.7 1479.5L627.0 1484.4L625.4 1488.5L621.6 1492.7L618.4 1496.6L615.2 1500.5L613.6 1503.5L613.6 1506.4L613.6 1512.0L612.0 1516.9L610.4 1523.5L607.2 1529.2L604.0 1533.3L599.2 1533.6L594.4 1536.0L589.6 1537.7L584.8 1541.4L582.9 1545.5L582.9 1550.7L580.0 1554.1L576.8 1559.4L574.2 1562.9L572.0 1564.7L567.5 1570.8L564.0 1574.7L559.2 1575.1L555.0 1573.3L552.8 1571.8L551.5 1571.5L551.2 1573.6L555.4 1577.3L556.0 1580.9L553.4 1586.4L548.0 1589.4L540.0 1590.2L539.0 1593.9L539.4 1597.0L534.2 1598.1L530.4 1597.0L530.4 1601.5L534.6 1602.7L532.0 1605.0L529.8 1609.3L527.2 1613.2L524.0 1615.2L522.4 1619.2L527.2 1623.3L525.6 1626.5L522.4 1629.4L519.2 1633.5L517.6 1635.6L518.3 1639.5L519.5 1643.3L516.0 1644.1L511.8 1645.9L511.2 1649.8L506.4 1648.5L502.2 1645.4L499.0 1639.9L497.4 1633.5L496.8 1627.3L500.0 1623.3L496.8 1620.0L501.6 1615.2L504.8 1609.3L504.8 1601.5L502.2 1597.7L503.2 1592.0L503.2 1584.6L505.8 1577.3L509.0 1570.0L509.6 1561.2L509.9 1554.1L511.5 1547.2L512.8 1540.4L513.1 1533.6L514.1 1526.9L513.4 1518.2L510.2 1515.3L504.8 1512.0L497.8 1508.0L494.2 1503.1L491.4 1497.3L488.2 1490.8L484.6 1484.4L482.4 1480.5L478.6 1477.9L478.2 1473.1L481.4 1469.6L483.0 1466.7L479.5 1465.7L479.8 1461.9L482.1 1458.7L482.4 1456.1L485.9 1454.2L487.2 1450.7L490.4 1450.1L491.4 1446.5L490.4 1444.9L491.0 1441.1L490.4 1437.2L489.1 1435.6L491.4 1433.4Z M518.9 1645.0L513.4 1647.6L512.8 1651.5L508.0 1652.0L511.2 1655.1L517.6 1656.9L524.0 1656.4L529.8 1653.8L524.6 1651.5L520.8 1647.6Z M503.2 1600.8L501.0 1602.3L500.6 1606.6L503.2 1606.6Z M500.0 1629.4L496.8 1631.5L497.4 1635.6L499.7 1634.8Z M501.6 1641.1L498.4 1642.9L500.0 1645.9L503.2 1646.3Z M508.0 1653.3L509.6 1656.0L514.4 1656.4L512.8 1654.6Z M519.2 1655.1L524.0 1655.1L522.4 1656.9L518.6 1657.8Z M542.6 1641.1L547.0 1639.0L553.4 1640.3L550.2 1643.3L543.8 1642.9Z M239.5 1393.2L242.1 1394.5L242.7 1395.8L240.5 1397.2L239.2 1395.2Z M576.5 1459.0L581.6 1459.3L583.2 1461.9L578.4 1464.1L575.8 1461.9Z M720.5 1338.3L717.9 1335.8L714.7 1333.9L709.9 1334.7L710.2 1329.1L708.0 1328.0L709.9 1322.7L710.6 1317.8L709.9 1313.9L708.6 1312.0L712.8 1309.3L720.8 1309.7L727.2 1310.1L732.6 1310.4L734.6 1306.1L734.9 1301.8L734.6 1299.4L731.4 1296.2L729.4 1294.1L724.0 1292.5L723.0 1290.5L728.8 1288.8L733.3 1289.7L732.6 1285.1L734.6 1286.4L739.0 1285.9L739.0 1285.1L743.2 1283.4L743.5 1280.1L746.4 1279.2L749.6 1278.0L751.8 1275.4L753.4 1271.1L756.0 1269.4L760.8 1268.9L765.0 1268.5L765.9 1266.7L765.0 1262.3L764.3 1257.8L764.6 1253.3L768.8 1252.4L772.3 1250.1L771.4 1255.1L773.3 1256.0L771.0 1258.7L769.1 1261.0L769.8 1263.2L770.4 1265.0L773.6 1266.7L776.8 1265.9L781.6 1265.0L783.8 1267.2L789.6 1265.4L797.0 1263.2L798.6 1265.0L801.8 1264.5L804.0 1262.8L805.9 1260.1L805.6 1255.6L807.2 1251.5L810.4 1250.1L813.0 1253.3L816.2 1252.4L816.5 1247.8L813.6 1245.0L813.3 1243.1L820.0 1241.2L824.0 1241.6L828.0 1241.6L831.3 1240.0L835.0 1239.7L831.2 1238.3L828.0 1236.9L821.6 1237.3L816.8 1239.3L811.4 1239.7L806.9 1236.4L806.6 1232.0L806.6 1227.1L810.4 1222.0L812.7 1218.1L816.8 1215.9L819.4 1212.8L816.8 1210.2L813.3 1212.2L809.4 1211.2L806.6 1216.9L804.0 1221.0L799.2 1224.1L795.4 1228.1L793.8 1234.4L793.8 1236.4L797.9 1238.8L798.9 1241.6L796.0 1244.5L792.2 1246.4L791.2 1251.0L790.9 1255.1L789.0 1257.4L784.8 1257.8L783.8 1260.5L780.0 1260.5L778.7 1256.9L779.4 1255.6L776.5 1251.0L774.2 1245.0L772.3 1241.6L768.8 1244.5L764.6 1248.2L760.8 1248.7L756.6 1245.0L754.7 1239.3L754.4 1234.4L754.7 1229.5L759.2 1225.6L762.5 1224.0L765.6 1222.0L770.4 1219.5L773.6 1214.9L777.8 1210.2L780.0 1204.8L784.8 1200.5L788.0 1197.2L792.8 1192.8L796.0 1190.9L798.6 1188.2L802.1 1187.3L805.6 1186.5L809.3 1185.8L812.0 1183.1L816.5 1181.9L821.0 1180.7L828.0 1181.3L832.3 1184.6L837.6 1185.4L834.4 1188.8L839.2 1189.4L844.0 1190.5L848.6 1192.3L853.6 1192.2L858.4 1193.0L861.6 1196.7L864.7 1200.5L869.6 1201.1L869.6 1205.9L863.2 1208.6L858.5 1206.9L853.6 1207.0L849.6 1206.2L845.6 1205.4L842.4 1203.2L844.9 1206.7L847.2 1210.2L847.5 1213.9L849.8 1216.9L852.9 1219.5L856.8 1220.0L860.0 1217.5L856.2 1213.8L861.6 1213.9L866.4 1216.4L866.4 1211.2L870.1 1209.9L872.8 1207.0L879.2 1208.0L879.8 1202.7L878.6 1196.1L885.6 1197.2L885.6 1204.3L889.1 1202.9L892.0 1200.5L898.4 1197.8L902.6 1194.3L908.0 1193.9L914.4 1195.6L920.8 1195.0L927.2 1193.3L933.0 1190.0L940.0 1189.4L944.8 1191.1L949.6 1192.8L953.3 1195.3L957.6 1196.7L959.2 1191.6L955.8 1190.2L952.2 1190.0L952.2 1185.6L952.2 1181.3L953.8 1177.6L956.0 1174.2L959.2 1169.4L962.6 1173.1L966.5 1172.0L970.4 1170.6L972.6 1175.9L971.0 1181.3L969.4 1185.0L970.4 1189.0L969.8 1192.8L972.7 1196.5L973.6 1201.1L972.1 1204.9L968.8 1207.5L972.4 1204.9L976.8 1204.8L980.6 1200.2L976.8 1195.6L981.6 1192.8L980.5 1188.4L978.6 1184.4L975.2 1181.3L975.0 1176.7L976.8 1172.4L981.6 1175.4L986.4 1173.6L988.0 1178.4L992.0 1176.8L996.0 1175.4L994.6 1170.7L997.0 1166.3L1002.0 1165.2L1007.2 1164.4L1013.6 1163.8L1014.0 1159.8L1016.8 1156.9L1020.9 1154.9L1024.8 1152.5L1029.6 1153.0L1034.2 1155.0L1037.9 1153.0L1041.9 1152.1L1045.6 1149.7L1049.8 1148.4L1054.5 1149.8L1058.4 1147.1L1061.6 1144.6L1064.3 1141.4L1068.0 1139.7L1072.2 1139.0L1076.1 1140.7L1079.2 1143.8L1082.4 1147.1L1087.2 1146.1L1092.0 1147.2L1096.8 1147.1L1099.6 1150.1L1101.6 1153.7L1097.8 1155.9L1095.9 1159.7L1093.6 1163.2L1100.0 1165.1L1103.9 1167.0L1107.9 1167.5L1111.9 1166.9L1116.0 1166.3L1122.4 1169.4L1126.4 1169.3L1129.4 1165.6L1133.6 1166.3L1137.6 1169.9L1141.6 1166.3L1144.8 1172.4L1147.5 1175.3L1150.7 1177.8L1152.8 1181.3L1157.4 1181.6L1160.8 1178.4L1165.6 1179.0L1170.4 1178.4L1175.2 1178.7L1180.0 1177.8L1183.3 1175.3L1186.4 1172.4L1189.6 1170.6L1194.0 1168.5L1197.8 1170.7L1201.6 1172.4L1205.6 1173.0L1209.3 1176.1L1214.3 1175.8L1218.4 1177.8L1223.6 1177.6L1226.4 1181.9L1229.9 1180.4L1233.6 1180.6L1237.2 1181.7L1240.8 1181.3L1243.5 1184.1L1247.4 1184.9L1250.4 1187.1L1253.6 1190.0L1257.8 1189.3L1262.1 1187.9L1266.4 1189.4L1270.7 1192.7L1273.9 1188.3L1277.6 1187.7L1278.9 1192.6L1284.0 1192.8L1285.6 1187.1L1289.7 1186.5L1293.6 1187.3L1297.5 1189.7L1301.6 1188.2L1304.8 1192.7L1310.7 1189.6L1314.4 1192.8L1318.6 1196.1L1324.0 1196.7L1326.8 1199.1L1330.6 1199.9L1333.0 1203.1L1336.8 1203.8L1339.6 1207.0L1345.2 1204.0L1347.4 1208.6L1344.8 1211.3L1341.2 1213.0L1340.0 1216.9L1335.2 1218.0L1331.5 1214.9L1327.2 1212.8L1322.4 1212.4L1317.6 1211.7L1314.4 1214.4L1308.0 1215.9L1306.4 1219.5L1310.6 1222.4L1312.8 1227.1L1308.8 1227.8L1304.8 1227.1L1299.9 1228.5L1295.2 1230.5L1292.4 1233.4L1288.8 1234.9L1284.0 1239.3L1280.3 1238.6L1276.4 1239.6L1272.8 1237.8L1268.8 1238.7L1264.8 1239.7L1261.0 1241.6L1259.8 1245.2L1258.4 1248.7L1260.0 1253.3L1258.4 1256.9L1255.2 1262.3L1250.4 1268.9L1245.6 1271.5L1240.8 1279.7L1236.6 1271.1L1236.3 1262.3L1237.6 1253.3L1240.9 1249.9L1244.0 1246.4L1247.0 1243.3L1250.7 1241.1L1253.6 1237.8L1258.0 1235.5L1261.6 1232.0L1263.2 1227.1L1259.7 1228.8L1255.4 1228.3L1252.0 1230.5L1248.4 1232.0L1244.5 1231.5L1240.8 1232.0L1238.8 1235.3L1236.3 1238.3L1234.4 1241.6L1229.8 1243.5L1224.8 1244.0L1219.9 1242.8L1215.2 1241.2L1211.4 1241.2L1207.7 1241.8L1204.0 1242.6L1199.2 1242.8L1194.4 1243.1L1191.0 1245.6L1188.0 1248.7L1184.0 1252.1L1180.0 1255.6L1176.8 1263.6L1183.2 1265.9L1189.6 1269.8L1190.6 1275.4L1188.0 1281.8L1187.4 1290.1L1181.6 1296.2L1175.2 1304.2L1170.4 1310.1L1164.0 1312.8L1159.2 1312.8L1156.6 1314.7L1153.4 1317.8L1149.6 1322.7L1146.4 1324.6L1146.1 1326.5L1149.3 1329.1L1152.5 1334.7L1152.8 1339.0L1151.2 1341.6L1146.4 1343.0L1142.6 1343.8L1143.2 1340.1L1143.2 1335.4L1144.2 1332.1L1139.0 1331.7L1138.4 1329.1L1139.4 1325.4L1136.2 1323.9L1130.4 1325.4L1126.2 1328.0L1128.8 1321.6L1125.6 1320.1L1120.8 1324.2L1116.0 1326.5L1115.0 1329.1L1119.2 1332.8L1125.0 1331.7L1130.4 1333.2L1125.6 1336.1L1120.8 1340.9L1123.4 1345.6L1125.6 1350.2L1128.5 1354.5L1128.2 1357.0L1124.0 1358.7L1128.8 1360.5L1127.2 1365.0L1124.0 1370.2L1120.8 1375.3L1116.0 1379.1L1112.2 1383.1L1104.8 1385.5L1101.6 1386.5L1095.2 1388.8L1091.4 1390.5L1091.0 1392.9L1089.8 1388.8L1085.6 1388.2L1082.4 1389.2L1079.8 1392.2L1077.6 1395.5L1076.6 1397.8L1079.8 1402.8L1085.0 1407.1L1087.8 1413.6L1088.2 1420.1L1084.0 1424.0L1080.2 1425.3L1079.2 1428.2L1075.0 1430.8L1073.8 1427.2L1072.8 1425.0L1069.6 1424.7L1067.4 1420.8L1065.4 1419.1L1061.3 1417.8L1060.0 1415.2L1058.4 1415.9L1058.4 1420.1L1056.2 1425.0L1056.8 1428.9L1059.4 1432.1L1060.0 1435.6L1063.2 1436.9L1066.4 1439.5L1069.3 1443.3L1069.6 1447.5L1071.2 1451.3L1071.8 1454.2L1069.6 1454.5L1066.4 1452.0L1062.6 1449.4L1060.0 1445.9L1059.4 1441.1L1059.0 1437.9L1055.8 1434.7L1053.0 1433.0L1053.3 1428.2L1054.2 1425.0L1053.9 1420.1L1052.6 1415.2L1051.4 1410.3L1050.7 1405.8L1048.2 1404.1L1044.0 1407.7L1040.5 1407.1L1040.8 1402.1L1039.8 1397.8L1037.6 1394.5L1034.4 1391.2L1032.8 1387.8L1032.2 1385.5L1029.0 1385.5L1027.4 1387.5L1023.2 1388.2L1020.0 1388.2L1016.8 1389.2L1016.2 1392.9L1012.0 1395.2L1007.2 1399.5L1002.4 1404.4L998.2 1407.1L995.0 1408.7L994.7 1413.6L995.4 1416.2L994.1 1421.7L993.8 1425.6L991.2 1428.9L988.6 1430.5L986.4 1432.7L983.2 1429.8L981.6 1425.0L979.4 1420.1L976.8 1413.6L973.6 1407.1L971.7 1400.5L971.4 1396.5L971.0 1390.5L970.4 1387.5L969.4 1389.8L965.6 1391.5L962.4 1390.5L959.2 1386.2L963.0 1384.1L959.2 1384.5L957.3 1381.8L954.4 1380.4L952.8 1377.7L951.2 1375.7L944.8 1376.3L938.4 1376.3L935.2 1376.7L928.8 1375.7L923.4 1375.0L920.8 1370.9L918.6 1369.8L913.4 1371.6L908.0 1370.2L903.2 1367.4L901.0 1363.6L898.4 1359.8L895.2 1358.4L892.0 1361.5L893.6 1365.0L896.8 1369.1L899.0 1371.9L899.0 1375.3L901.0 1377.7L902.2 1378.4L903.5 1376.0L902.6 1373.3L901.0 1375.3L903.5 1379.7L906.4 1379.7L911.2 1379.7L915.0 1376.3L917.9 1373.3L918.9 1377.0L920.2 1379.4L925.6 1381.8L929.8 1385.5L926.6 1391.2L923.4 1397.2L919.2 1400.5L915.0 1402.1L911.2 1403.8L905.4 1407.1L900.0 1410.0L895.2 1413.0L888.8 1415.2L882.4 1417.5L877.9 1417.8L876.6 1415.9L875.4 1410.7L875.0 1405.8L872.2 1401.1L869.0 1395.5L865.4 1392.2L863.5 1388.8L861.6 1383.1L858.4 1379.4L855.8 1373.6L852.0 1368.5L850.4 1366.4L850.1 1361.5L847.8 1355.2L849.4 1352.7L850.4 1349.2L852.3 1344.8L853.3 1341.2L853.6 1338.3L854.2 1335.4L850.4 1336.1L847.2 1337.2L842.4 1338.0L836.6 1335.4L832.8 1337.6L829.0 1335.8L826.1 1334.7L825.8 1331.0L823.2 1328.7L824.2 1325.4L822.2 1323.5L824.8 1322.0L831.2 1320.8L831.5 1318.9L838.6 1318.9L845.6 1315.9L850.4 1315.9L855.2 1318.5L861.6 1320.1L866.4 1319.7L871.2 1317.8L871.2 1313.9L866.4 1310.1L863.2 1307.3L858.4 1305.4L856.8 1303.0L860.0 1300.2L863.2 1295.8L858.4 1297.0L851.0 1299.0L850.4 1301.8L855.2 1303.0L852.0 1305.0L846.2 1306.5L845.6 1303.4L842.7 1302.2L845.6 1299.8L840.8 1299.0L839.2 1297.8L837.0 1298.6L833.4 1303.0L830.2 1308.1L828.0 1310.8L827.0 1313.5L828.0 1315.9L829.6 1318.2L831.2 1318.5L829.6 1319.7L826.4 1319.7L823.8 1321.6L822.2 1322.3L821.9 1320.8L820.0 1320.1L816.2 1320.4L814.6 1323.5L811.7 1322.0L811.0 1325.4L813.0 1329.1L815.2 1331.0L812.3 1331.3L812.6 1333.5L811.4 1336.5L807.8 1335.4L806.2 1331.7L807.5 1329.8L805.0 1327.6L803.4 1325.4L802.1 1324.2L800.5 1321.2L800.8 1317.8L800.2 1316.2L797.6 1313.9L794.4 1312.0L789.6 1309.7L787.0 1306.9L784.8 1303.4L782.6 1304.2L781.9 1301.8L778.4 1302.6L777.8 1306.1L778.7 1308.5L781.9 1310.1L783.8 1314.3L787.0 1316.2L789.6 1316.2L789.3 1317.8L792.8 1319.7L796.6 1322.0L797.6 1323.1L796.6 1324.2L792.8 1321.6L791.5 1324.2L793.1 1327.2L791.2 1329.1L789.6 1331.3L788.6 1330.6L789.0 1327.6L790.2 1325.4L788.3 1323.1L785.8 1320.8L783.8 1320.4L780.0 1318.9L777.4 1316.6L773.6 1313.9L772.0 1312.0L771.0 1308.5L768.8 1306.9L766.6 1306.5L764.0 1308.5L762.4 1308.9L759.2 1311.6L754.4 1310.4L751.2 1310.1L748.3 1311.6L748.3 1314.3L748.6 1316.2L745.4 1318.5L741.0 1320.4L737.4 1325.4L739.0 1328.0L736.8 1329.8L736.2 1332.4L732.6 1334.7L731.4 1335.8L724.3 1335.8Z M720.2 1283.4L727.2 1282.6L733.6 1280.9L739.4 1280.5L742.9 1278.8L740.6 1277.5L743.8 1272.8L739.4 1271.1L738.7 1268.5L737.8 1265.4L733.9 1262.3L733.3 1259.6L731.4 1257.8L727.8 1257.8L729.4 1256.5L731.7 1253.3L732.6 1250.5L727.2 1250.1L725.6 1250.5L728.5 1245.9L722.4 1245.9L721.4 1249.1L719.8 1251.9L720.5 1255.6L720.5 1260.5L722.7 1262.3L722.4 1263.6L727.2 1262.8L727.5 1265.4L728.8 1267.6L728.5 1269.8L724.0 1269.8L724.0 1272.0L725.3 1273.7L722.1 1275.8L725.0 1277.1L728.8 1278.0L725.0 1278.8Z M718.6 1269.8L719.2 1274.1L717.9 1274.5L712.8 1276.7L707.0 1277.5L705.4 1274.5L708.0 1272.4L708.6 1270.2L706.4 1268.9L707.0 1265.4L711.2 1264.5L711.5 1261.9L715.0 1261.0L718.6 1261.4L720.5 1264.1L719.2 1266.7Z M715.4 1250.1L718.6 1246.8L717.6 1249.1L715.0 1252.4Z M733.6 1239.3L735.2 1236.4L734.2 1238.3Z M715.0 1229.5L717.3 1228.1L716.6 1230.5Z M772.6 1126.4L776.7 1123.6L781.6 1122.7L785.3 1122.0L789.1 1122.7L792.8 1122.7L796.5 1123.6L799.2 1126.4L802.8 1129.7L807.2 1132.1L804.0 1136.2L799.2 1138.3L796.8 1142.8L792.8 1145.8L786.4 1143.8L781.6 1142.1L781.6 1136.9L776.6 1135.5L773.6 1131.4Z M797.6 1121.3L801.5 1122.3L805.2 1121.2L808.8 1119.8L812.6 1122.0L817.0 1119.7L820.5 1123.5L824.8 1122.0L821.6 1127.1L817.3 1126.7L813.1 1128.0L808.8 1127.8L803.2 1129.0L799.2 1124.9Z M805.6 1139.7L810.5 1139.5L815.2 1141.0L812.0 1135.6L807.2 1135.6Z M885.6 1119.8L890.9 1122.2L895.2 1121.0L898.4 1116.1L892.0 1115.3L889.1 1118.0Z M904.8 1120.5L908.7 1122.1L913.0 1119.6L916.8 1121.2L920.8 1122.0L923.3 1118.8L927.2 1117.6L923.7 1113.7L919.2 1116.8L915.5 1113.7L911.2 1115.3L910.5 1121.0Z M930.4 1119.1L934.6 1120.1L938.5 1118.9L942.3 1116.8L946.4 1116.8L942.3 1113.0L936.8 1112.3L932.2 1114.3L927.2 1114.6Z M904.2 1177.8L909.6 1182.5L913.9 1182.2L918.3 1181.4L922.4 1183.7L922.8 1178.6L920.2 1174.2L925.5 1170.7L924.0 1164.4L926.5 1160.8L931.6 1159.8L933.6 1155.6L937.5 1153.9L941.5 1152.7L946.7 1155.1L949.6 1150.4L953.4 1149.4L956.6 1147.5L959.2 1144.4L955.5 1143.8L951.7 1144.7L948.0 1143.8L943.8 1142.6L941.3 1147.0L938.1 1149.0L934.4 1149.7L930.4 1149.1L927.0 1151.8L922.2 1152.2L919.2 1155.6L918.1 1160.8L913.8 1163.8L913.0 1168.0L909.6 1170.6L906.2 1173.7Z M893.6 1192.8L898.4 1191.1L895.2 1189.4Z M925.6 1186.0L930.4 1187.1L928.8 1188.8Z M1044.0 1129.9L1045.6 1126.4L1048.8 1124.2L1053.7 1123.9L1058.4 1122.7L1061.2 1125.3L1064.2 1127.3L1068.0 1127.8L1063.5 1128.4L1060.0 1131.4L1055.2 1136.2L1050.5 1133.9L1045.6 1132.1Z M1058.4 1135.6L1062.6 1137.2L1066.4 1134.9L1070.4 1133.9L1074.4 1134.9L1071.2 1138.3L1066.3 1139.3L1061.6 1137.6Z M1039.2 1121.3L1042.6 1119.3L1045.4 1116.5L1048.8 1114.6L1045.6 1120.5Z M1178.4 1154.9L1182.4 1152.7L1186.4 1150.4L1191.0 1152.2L1196.0 1151.7L1202.4 1154.3L1196.5 1151.6L1192.8 1156.9L1188.0 1157.9L1183.2 1158.8Z M1186.4 1166.3L1191.0 1168.2L1196.0 1167.5L1192.8 1163.8Z M1208.8 1156.9L1213.4 1154.5L1218.4 1155.6L1215.2 1158.8Z M1309.6 1181.3L1312.5 1177.3L1317.5 1181.1L1320.8 1178.4L1322.4 1181.3L1318.2 1180.3L1314.4 1182.5Z M1192.8 1265.4L1196.0 1268.9L1196.6 1275.4L1197.6 1281.8L1199.2 1287.2L1196.0 1288.0L1195.0 1294.1L1197.6 1297.0L1194.4 1300.2L1192.8 1296.2L1192.8 1290.1L1192.2 1283.9L1192.2 1277.5L1191.8 1269.8Z M1187.0 1317.8L1189.6 1317.0L1188.0 1313.9L1191.8 1313.5L1196.6 1315.9L1199.2 1312.0L1204.0 1310.8L1202.4 1307.3L1197.6 1307.3L1192.2 1302.6L1191.8 1306.1L1190.6 1310.8L1187.4 1311.2L1185.8 1314.7Z M1190.6 1318.2L1191.2 1321.6L1192.8 1325.4L1191.2 1329.8L1189.6 1334.7L1188.6 1338.3L1189.0 1339.4L1186.4 1342.0L1185.8 1340.1L1183.8 1341.2L1182.6 1343.0L1181.0 1343.0L1176.8 1343.4L1176.2 1344.5L1174.6 1346.3L1173.0 1347.4L1170.7 1344.5L1167.2 1343.4L1164.0 1344.5L1161.4 1345.6L1157.6 1345.6L1157.6 1343.8L1162.4 1340.5L1167.2 1339.8L1172.0 1339.8L1173.6 1337.2L1176.2 1334.7L1177.4 1335.4L1181.6 1333.2L1184.8 1329.1L1186.4 1324.2L1186.4 1320.8L1187.4 1318.9Z M1162.4 1349.2L1164.0 1349.2L1167.8 1348.1L1169.4 1346.3L1168.2 1344.5L1164.0 1345.6L1161.8 1347.4Z M1155.0 1347.0L1157.6 1345.9L1159.8 1348.1L1160.5 1349.9L1158.9 1354.5L1156.6 1356.2L1155.0 1355.2L1155.0 1350.9L1153.4 1350.2L1152.8 1348.1Z M1204.0 1308.9L1207.2 1306.1L1205.6 1308.1Z M1208.8 1305.0L1213.6 1302.2L1210.4 1304.2Z M1216.8 1301.0L1220.0 1299.0L1218.4 1300.2Z M1236.0 1283.0L1238.6 1280.9L1236.6 1282.2Z M1261.6 1245.9L1264.8 1243.1L1262.6 1244.5Z M1268.6 1261.0L1270.6 1263.2L1269.6 1261.4Z M1142.2 1348.1L1144.5 1347.4L1143.5 1348.4Z M1127.2 1376.0L1128.8 1377.0L1127.2 1382.1L1125.0 1387.5L1123.0 1384.5L1123.0 1381.1L1125.6 1377.0Z M1086.2 1396.5L1090.4 1393.5L1093.6 1394.8L1090.4 1399.2L1086.6 1398.8Z M993.8 1427.6L995.4 1428.2L998.2 1431.4L1000.5 1435.3L999.2 1438.5L995.4 1439.8L993.8 1436.3L993.8 1431.4Z M1124.3 1398.8L1127.2 1398.5L1129.4 1399.2L1129.8 1403.8L1127.5 1407.1L1127.8 1410.3L1128.8 1413.6L1133.0 1414.3L1135.2 1416.9L1135.2 1418.5L1133.0 1416.9L1130.4 1415.2L1127.8 1413.9L1124.6 1414.3L1124.3 1412.0L1122.4 1410.3L1121.8 1406.4L1123.7 1405.1L1123.7 1402.1Z M1128.8 1436.3L1133.6 1431.1L1136.8 1431.4L1140.0 1427.2L1142.9 1433.0L1143.2 1437.9L1140.0 1439.5L1140.6 1436.3L1139.4 1440.8L1135.2 1437.9L1135.2 1434.7L1133.0 1434.7Z M1136.2 1418.5L1139.4 1418.5L1140.6 1422.7L1138.4 1423.4Z M1128.8 1420.8L1132.0 1421.7L1130.4 1425.0L1128.8 1425.0Z M1130.4 1426.6L1133.6 1424.0L1132.6 1429.2L1130.4 1428.2Z M1136.5 1422.1L1138.4 1423.7L1139.0 1425.9L1137.8 1426.3Z M1133.3 1426.6L1135.2 1422.7L1134.9 1425.9Z M1134.6 1427.2L1136.8 1426.6L1136.2 1427.9Z M1113.4 1431.8L1116.0 1429.8L1120.8 1425.0L1121.4 1422.1L1119.2 1425.3L1115.4 1429.2Z M1123.7 1415.6L1126.6 1415.9L1127.2 1418.5L1125.6 1419.5L1124.6 1417.5Z M1043.4 1440.8L1050.4 1442.0L1053.6 1446.5L1058.4 1450.4L1061.6 1452.3L1065.4 1455.5L1069.6 1457.7L1070.6 1461.9L1072.8 1464.8L1077.6 1468.3L1077.0 1473.1L1077.0 1477.3L1073.1 1477.3L1069.6 1474.1L1065.8 1471.2L1061.6 1466.7L1059.4 1461.6L1055.2 1457.4L1054.2 1453.3L1049.4 1449.1L1045.6 1445.3Z M1075.4 1464.5L1078.2 1463.8L1079.8 1468.3L1077.3 1467.0Z M1082.7 1467.0L1085.0 1467.7L1083.7 1468.9Z M1049.1 1454.2L1051.7 1456.8L1050.1 1455.5Z M1054.2 1461.9L1056.2 1464.5L1054.9 1463.8Z M1045.0 1449.7L1047.2 1451.0L1045.6 1450.7Z M1075.0 1480.5L1077.6 1477.6L1080.8 1477.6L1085.6 1479.8L1092.0 1479.2L1093.3 1479.2L1099.0 1480.8L1104.8 1483.4L1104.5 1486.3L1100.0 1485.3L1093.6 1485.0L1087.2 1483.4L1082.4 1483.1L1078.9 1482.1Z M1099.0 1481.1L1103.2 1480.8L1102.9 1481.8L1099.4 1481.8Z M1104.8 1484.7L1108.6 1485.3L1107.0 1486.9Z M1109.6 1485.3L1111.8 1485.6L1110.6 1487.3Z M1112.2 1486.0L1119.2 1485.3L1119.2 1486.6L1112.8 1487.6Z M1121.8 1485.6L1132.0 1485.0L1131.4 1486.6L1122.4 1486.9Z M1119.2 1488.9L1125.0 1490.5L1122.4 1491.8Z M1133.6 1491.8L1136.8 1488.2L1145.8 1485.6L1141.6 1488.5L1136.8 1491.5Z M1141.0 1483.4L1144.2 1483.1L1142.6 1484.0Z M1158.2 1482.4L1159.8 1483.7L1158.6 1484.4Z M1167.8 1476.3L1169.8 1478.6L1168.2 1480.5Z M1141.6 1468.9L1145.4 1469.3L1143.8 1470.9Z M1147.7 1468.6L1152.8 1467.7L1157.0 1469.6L1152.8 1469.6L1148.6 1469.9Z M1087.2 1453.9L1089.4 1452.3L1093.6 1453.9L1094.9 1450.1L1100.0 1448.5L1103.2 1444.3L1108.0 1441.1L1112.2 1436.3L1115.0 1438.2L1119.8 1441.7L1116.6 1444.3L1114.7 1445.3L1116.0 1450.7L1119.2 1455.5L1115.4 1456.1L1114.4 1460.3L1111.2 1463.5L1111.2 1468.3L1109.6 1471.5L1105.4 1471.8L1104.8 1469.6L1100.0 1468.9L1096.2 1469.9L1091.0 1468.0L1090.4 1463.5L1087.8 1460.3Z M1121.8 1456.1L1122.7 1458.7L1121.8 1461.3L1120.8 1466.7L1118.6 1468.3L1120.8 1469.9L1120.5 1476.3L1123.7 1476.6L1123.7 1473.1L1123.4 1468.0L1125.6 1467.3L1127.2 1471.5L1128.8 1474.1L1131.4 1473.1L1132.6 1475.7L1130.4 1469.3L1127.2 1465.1L1129.8 1464.1L1133.0 1461.9L1133.3 1460.6L1128.2 1461.6L1125.6 1463.2L1123.0 1461.6L1122.7 1457.4L1125.6 1457.1L1132.0 1457.4L1136.8 1457.4L1139.0 1453.9L1136.8 1454.9L1132.0 1455.7L1127.2 1455.2L1125.0 1454.5Z M1146.4 1455.5L1148.0 1451.7L1150.2 1453.9L1148.0 1457.1L1150.2 1457.7L1148.0 1461.3L1147.0 1457.7Z M1157.6 1461.3L1162.4 1460.0L1167.5 1461.3L1167.8 1465.1L1170.4 1469.3L1175.2 1465.7L1178.4 1463.8L1183.2 1465.1L1189.6 1467.0L1196.0 1469.6L1200.8 1470.9L1205.0 1474.7L1208.8 1477.6L1211.4 1478.9L1208.8 1480.5L1208.5 1482.7L1212.0 1486.0L1215.2 1487.9L1218.4 1490.8L1221.0 1491.8L1216.8 1492.1L1212.0 1491.1L1208.8 1489.2L1205.6 1485.0L1201.4 1483.1L1197.6 1485.6L1194.4 1488.2L1189.6 1487.9L1185.8 1484.7L1180.6 1485.6L1179.0 1482.4L1182.6 1481.8L1180.0 1477.3L1173.6 1473.4L1168.8 1471.5L1164.0 1471.8L1163.4 1469.3L1166.2 1466.7L1161.8 1466.1L1157.6 1463.5Z M1213.0 1477.0L1218.4 1476.3L1221.6 1474.7L1225.4 1472.1L1224.2 1474.7L1221.6 1477.3L1218.4 1478.9L1213.6 1477.9Z M1221.0 1467.0L1226.4 1470.9L1228.0 1474.1L1226.4 1471.5Z M1233.1 1476.0L1237.0 1479.5L1235.4 1480.5Z M1207.5 1465.1L1210.1 1465.1L1208.8 1465.7Z M1239.2 1481.1L1242.4 1483.1L1240.8 1483.4Z M1245.6 1483.1L1249.8 1485.6L1248.2 1485.6Z M1249.1 1488.5L1253.0 1490.2L1250.4 1490.5Z M1252.3 1485.6L1254.6 1489.2L1253.3 1488.2Z M1254.6 1491.8L1257.8 1493.4L1255.8 1493.1Z M1263.2 1523.9L1268.0 1526.9L1272.8 1531.2L1269.6 1530.2L1264.2 1525.9Z M1271.5 1507.1L1273.4 1509.0L1272.2 1509.3Z M1276.3 1515.3L1277.6 1516.3L1276.6 1516.3Z M1305.8 1515.6L1309.9 1515.3L1309.6 1517.6L1306.4 1517.6Z M1310.2 1513.0L1314.4 1511.0L1312.8 1513.0Z M1194.4 1493.1L1197.6 1498.9L1198.6 1504.8L1203.4 1507.1L1205.6 1513.6L1206.6 1519.9L1212.0 1523.5L1215.8 1526.9L1221.0 1532.6L1224.2 1537.0L1228.6 1542.1L1228.6 1548.9L1229.9 1553.1L1228.0 1561.2L1226.4 1566.5L1222.6 1571.5L1220.6 1576.2L1218.4 1583.5L1212.0 1586.1L1206.9 1590.5L1202.4 1587.6L1200.8 1587.2L1197.6 1589.4L1191.2 1587.6L1186.4 1584.2L1184.8 1578.7L1181.6 1577.6L1181.6 1575.1L1179.4 1576.2L1179.4 1567.5L1173.6 1573.6L1172.6 1575.1L1167.8 1567.5L1165.6 1565.0L1157.6 1562.9L1151.2 1563.6L1141.6 1565.8L1135.2 1568.2L1133.6 1571.5L1127.2 1571.5L1122.4 1571.5L1116.0 1575.1L1109.6 1575.1L1106.7 1572.9L1108.6 1564.7L1106.4 1557.6L1103.8 1548.9L1101.0 1543.8L1103.2 1538.7L1101.6 1533.6L1102.6 1530.2L1104.8 1529.6L1109.6 1526.5L1114.4 1525.5L1119.2 1523.5L1125.6 1522.2L1129.4 1516.9L1130.4 1513.6L1133.6 1514.6L1133.9 1511.0L1137.8 1507.7L1141.6 1503.8L1146.4 1503.8L1148.6 1507.1L1152.8 1506.7L1153.4 1502.2L1156.3 1498.6L1160.8 1497.3L1162.4 1495.0L1170.4 1497.9L1176.2 1497.3L1173.6 1502.2L1172.0 1506.7L1176.8 1509.7L1183.2 1513.0L1186.4 1515.6L1189.6 1510.3L1191.5 1503.8L1191.8 1498.9Z M1201.4 1596.6L1207.2 1598.1L1213.0 1597.3L1213.0 1601.5L1211.4 1606.2L1207.2 1607.7L1204.0 1604.6L1203.0 1600.8Z M1175.5 1578.0L1180.0 1578.4L1178.4 1579.1Z M1155.4 1495.3L1159.2 1495.3L1157.6 1496.6Z M1174.9 1503.1L1176.5 1503.8L1175.5 1504.4Z M1291.0 1573.3L1296.2 1577.3L1298.1 1582.4L1301.0 1581.3L1301.6 1585.0L1308.0 1585.0L1307.4 1590.5L1304.5 1592.0L1304.2 1595.8L1299.4 1600.0L1297.8 1598.9L1298.7 1594.7L1296.8 1592.4L1294.6 1591.3L1297.1 1589.4L1297.8 1585.7L1296.2 1580.9L1292.0 1576.2Z M1291.0 1595.8L1293.0 1598.5L1296.2 1600.4L1294.6 1603.1L1291.4 1607.0L1292.3 1608.5L1286.9 1610.5L1285.6 1615.2L1284.3 1616.8L1280.8 1619.6L1277.0 1619.6L1271.5 1618.0L1272.8 1613.2L1276.6 1609.3L1282.4 1605.4L1286.2 1602.7L1288.8 1597.7Z M1274.7 1620.4L1276.6 1620.8L1275.4 1622.0Z M841.8 1342.0L845.6 1340.5L849.1 1339.8L846.9 1342.0L844.0 1343.4Z M813.6 1340.1L822.6 1341.2L818.4 1342.3L813.9 1341.2Z M778.1 1331.0L788.3 1329.8L786.7 1335.8L778.4 1332.4Z M764.6 1319.7L769.4 1319.7L769.4 1326.5L765.6 1327.2L765.3 1321.6Z M765.9 1314.3L768.8 1312.0L768.8 1317.8L766.6 1317.8Z M746.1 1325.0L749.3 1324.2L748.3 1326.1Z M813.0 1327.6L816.8 1330.2L815.2 1329.5Z M827.4 1337.2L828.6 1338.0L827.4 1338.7Z M821.6 1326.1L823.5 1326.5L822.2 1327.2Z M774.2 1260.5L778.7 1259.2L777.4 1262.3Z M769.8 1260.1L773.0 1260.5L772.0 1262.3Z M796.6 1252.4L799.2 1249.1L798.2 1251.9Z M790.9 1256.5L792.8 1251.9L791.8 1255.6Z M808.8 1247.3L812.0 1245.9L810.4 1248.2Z M809.8 1244.5L812.0 1244.0L810.7 1245.4Z M780.0 1198.3L783.8 1197.9L786.4 1195.0L783.2 1196.7Z M786.4 1193.9L790.6 1191.6L788.0 1194.4Z M719.5 1339.0L721.4 1338.7L727.2 1341.2L729.1 1340.9L731.4 1341.6L735.2 1339.4L738.4 1338.7L742.2 1336.5L748.0 1335.4L754.4 1335.4L760.8 1334.7L765.9 1335.0L769.8 1333.5L771.4 1335.0L773.6 1334.7L772.3 1338.3L772.0 1340.1L773.6 1342.7L770.7 1345.6L773.0 1346.6L775.2 1348.8L778.4 1349.9L781.6 1349.5L787.0 1351.6L789.0 1355.2L794.4 1357.0L799.2 1358.7L802.4 1356.2L802.4 1352.7L805.6 1349.9L810.4 1349.9L812.6 1352.0L818.4 1354.1L824.8 1355.2L831.2 1356.6L836.0 1354.5L839.2 1354.5L841.8 1355.5L847.8 1355.2L850.1 1361.5L848.5 1366.7L844.6 1364.6L842.7 1360.1L842.1 1361.5L845.6 1367.4L847.2 1371.9L850.4 1377.7L852.6 1381.1L856.5 1387.2L857.8 1392.2L858.1 1397.8L861.6 1400.5L863.8 1407.1L865.4 1410.3L870.2 1411.7L874.4 1416.2L876.6 1418.5L877.0 1421.4L879.2 1425.0L884.0 1424.7L888.8 1423.0L895.2 1422.4L901.9 1420.4L901.9 1425.0L900.0 1429.8L896.8 1434.7L895.2 1439.5L892.0 1444.3L885.6 1450.7L879.2 1455.5L874.4 1460.3L871.2 1464.1L868.0 1467.3L865.8 1471.5L863.8 1476.3L862.6 1479.5L864.8 1482.7L864.2 1487.6L865.8 1491.8L868.0 1494.0L868.0 1500.5L869.0 1507.1L864.8 1513.0L858.4 1516.3L855.2 1519.9L850.4 1523.2L849.8 1526.9L852.0 1531.9L851.7 1537.0L845.6 1541.4L843.4 1543.8L843.7 1548.9L842.1 1553.4L838.2 1556.9L834.4 1562.2L829.6 1567.5L824.8 1570.8L820.0 1572.2L813.6 1571.8L808.8 1572.6L802.4 1574.7L798.6 1572.9L797.3 1571.5L796.6 1567.2L795.7 1564.7L797.0 1562.9L793.8 1557.6L791.2 1552.8L787.4 1547.2L784.8 1537.0L784.8 1531.9L781.6 1526.9L778.4 1520.2L776.2 1515.3L776.2 1510.3L778.4 1503.8L781.6 1498.9L782.6 1494.0L781.0 1487.6L777.8 1478.2L777.4 1474.7L774.2 1471.5L769.8 1466.7L768.2 1463.5L766.6 1460.9L768.8 1457.1L769.1 1453.9L769.8 1450.7L769.4 1447.5L766.9 1444.3L761.4 1444.6L757.6 1444.9L755.4 1441.1L752.8 1438.5L749.3 1438.2L743.2 1438.8L738.4 1440.4L732.0 1443.3L727.2 1442.0L722.4 1442.0L714.4 1444.6L709.6 1442.7L704.8 1438.8L701.6 1436.6L698.4 1434.7L696.2 1431.4L695.8 1428.2L692.0 1425.0L689.8 1423.4L687.2 1420.1L685.0 1418.8L684.6 1415.2L682.4 1411.3L684.6 1408.7L685.6 1405.4L686.9 1400.5L686.2 1396.5L685.6 1395.5L684.0 1390.5L686.2 1385.5L687.8 1381.1L691.0 1377.0L692.0 1372.9L695.2 1368.5L697.1 1367.1L701.6 1365.0L705.8 1361.9L707.4 1358.0L707.0 1354.5L709.6 1350.2L714.4 1346.6L716.6 1345.2L718.6 1341.6Z M896.2 1497.3L899.4 1508.7L900.0 1510.0L897.8 1513.6L896.5 1516.9L894.6 1523.5L892.0 1531.9L889.4 1539.7L884.0 1542.1L879.2 1540.4L877.0 1531.9L877.9 1527.9L880.2 1522.9L879.2 1515.3L880.8 1511.0L885.6 1509.3L890.4 1506.4L892.6 1502.2Z M909.0 1418.2L912.8 1418.2L910.6 1419.1Z M863.8 1477.3L864.8 1478.6L864.2 1479.2Z M765.6 1446.9L766.9 1447.5L765.9 1448.1Z M958.6 1629.4L963.4 1629.8L962.4 1631.9L959.2 1631.9Z"/>
<path fill="#fff" d="M444.0 1297.4L452.0 1292.1L456.8 1288.8L463.2 1289.2L467.0 1292.9L467.7 1298.2L461.6 1298.2L456.8 1296.6L450.4 1297.4Z M457.4 1315.9L460.0 1317.0L462.2 1313.9L461.9 1308.1L464.8 1304.2L466.4 1301.0L461.6 1301.0L458.1 1304.2L457.4 1310.1Z M467.4 1300.6L471.2 1299.4L477.6 1300.2L482.4 1303.0L480.8 1305.7L477.0 1306.1L477.0 1310.8L474.7 1312.0L472.8 1308.1L470.6 1309.3L471.8 1304.2Z M471.5 1317.0L477.6 1317.8L485.6 1313.5L485.6 1312.4L479.2 1313.2L472.8 1315.5Z M483.0 1310.8L492.0 1310.8L494.2 1308.5L490.4 1308.1L484.6 1308.9Z M890.4 1300.2L895.8 1298.6L901.6 1296.6L908.0 1297.0L908.0 1304.2L903.2 1306.1L899.4 1306.9L901.6 1311.2L906.4 1315.9L908.0 1319.7L907.4 1323.5L910.6 1327.2L911.2 1332.8L910.9 1335.0L904.8 1335.8L899.4 1333.5L895.2 1329.8L894.9 1326.1L896.8 1322.3L893.6 1316.6L890.4 1312.0L887.8 1306.1Z M925.9 1305.7L926.6 1301.8L930.4 1299.0L933.6 1301.0L932.6 1305.7L929.1 1308.1Z M840.2 1460.3L840.8 1457.7L847.2 1457.7L847.8 1461.9L845.6 1466.7L840.8 1466.7L839.8 1463.5Z M832.2 1469.9L833.8 1474.1L833.8 1478.6L837.6 1486.0L836.3 1486.3L832.2 1479.2L831.8 1473.4Z M847.2 1489.5L849.1 1495.7L850.1 1502.2L851.0 1504.8L849.4 1504.8L848.2 1498.9L847.5 1493.4Z"/>
<path fill="none" d="M287.2 1189.4L287.2 1237.8L293.6 1239.3L298.4 1244.0L301.6 1241.6L305.4 1240.2L309.6 1245.0L312.8 1252.4L316.6 1255.1L322.4 1258.3L321.8 1262.3 M344.8 1288.0L433.9 1288.0L435.7 1289.2L444.0 1290.9L450.4 1291.7L452.0 1292.1 M467.7 1298.2L471.2 1301.0L474.4 1303.0L474.7 1312.0L472.5 1315.1L474.4 1317.0L485.6 1313.2L485.6 1310.8L485.6 1309.7L493.6 1307.7L498.4 1304.2L509.6 1304.2L511.8 1302.6L513.8 1299.0L517.0 1294.6L520.8 1295.0L521.4 1301.0L524.0 1304.6 M363.7 1350.9L371.0 1350.6L383.2 1355.2L392.2 1355.2L392.2 1353.4L397.6 1353.4L404.0 1360.8L408.2 1363.3L410.4 1360.5L414.2 1361.2L418.4 1366.0L420.0 1368.5L421.6 1372.2L427.4 1373.6 M443.4 1412.0L443.4 1409.7L445.0 1406.7L448.8 1406.7L448.8 1404.4L445.9 1403.1L447.2 1401.1L453.0 1401.1L453.0 1407.1L453.9 1407.4 M453.0 1401.1L455.8 1399.2 M455.8 1408.1L453.0 1411.7L452.3 1412.3L450.1 1414.3 M452.3 1412.3L455.2 1413.6L457.4 1415.6 M459.0 1416.9L461.0 1414.3L463.8 1413.6L467.0 1411.0L471.8 1410.3 M464.2 1423.0L467.4 1423.4L470.6 1423.7 M474.1 1427.9L473.1 1432.7 M509.0 1394.8L508.6 1400.5 M509.9 1420.8L506.4 1425.0L505.4 1429.2L506.7 1433.0L508.0 1436.3L514.4 1436.3L516.3 1439.2L522.4 1438.8L521.4 1444.3L524.0 1449.1L524.0 1454.9 M524.0 1454.9L520.8 1453.3L515.0 1453.3L515.0 1455.2L516.3 1456.5L514.4 1458.7L516.3 1461.9L514.7 1472.1 M514.7 1472.1L512.2 1470.9L508.0 1466.7L504.2 1466.1L501.6 1461.9L497.4 1459.0 M497.4 1459.0L493.6 1457.7L490.4 1456.8L486.2 1454.2 M497.4 1459.0L496.8 1463.5L493.0 1467.0L488.8 1468.9L486.6 1473.4L484.0 1474.7L481.4 1472.8L481.4 1469.6 M514.7 1472.1L505.1 1475.4L502.2 1482.1L505.1 1487.9L507.4 1490.8L512.5 1489.2L512.5 1494.0L515.7 1494.0 M515.7 1494.0L518.6 1498.9L517.6 1502.8L517.6 1508.0L516.0 1511.0L517.6 1512.0L516.0 1515.3 M516.0 1515.3L513.4 1518.2 M515.7 1494.0L519.2 1494.0L525.6 1490.5L529.4 1490.2L529.4 1495.7L532.0 1498.3L538.4 1501.2L543.2 1502.5L545.8 1503.1L545.4 1507.1L545.8 1511.3L551.5 1511.3L551.8 1514.6L553.8 1516.9L553.4 1520.2L552.2 1524.2 M516.0 1515.3L519.2 1520.2L519.2 1525.2L521.1 1530.2L523.4 1532.9 M523.4 1532.9L526.6 1529.6L532.6 1532.9L538.1 1531.2 M538.1 1531.2L540.0 1525.2L540.6 1522.2L549.3 1521.2L552.2 1524.2 M552.2 1524.2L553.1 1530.6L559.8 1531.2L561.1 1537.0L564.6 1537.3L563.7 1542.4 M538.1 1531.2L543.2 1536.3L550.2 1539.7L554.1 1541.7L551.2 1547.9L557.6 1548.6L559.8 1548.3L563.7 1542.4 M563.7 1542.4L566.2 1545.5L566.6 1547.6L559.8 1552.1L554.1 1558.3 M554.1 1558.3L559.2 1560.4L564.0 1564.0L567.5 1567.5L567.5 1570.8 M554.1 1558.3L552.2 1564.7L551.5 1571.5 M523.4 1532.9L519.8 1538.7L519.2 1545.5L516.0 1552.4L514.4 1559.4L513.8 1566.5L514.7 1571.8L512.8 1579.1L511.2 1586.4L509.0 1593.9L508.6 1601.5L509.0 1609.3L509.6 1617.2L507.0 1625.3L504.8 1631.5L507.0 1637.7L508.0 1642.0L514.4 1642.0L519.5 1643.3 M518.9 1645.0L518.9 1654.6 M546.4 1431.4L543.2 1434.7L544.2 1436.9L542.2 1439.5L544.2 1442.0 M544.2 1442.0L537.4 1445.9L532.0 1445.9L533.6 1450.7L535.5 1451.7L528.8 1456.1L524.0 1454.9 M544.2 1442.0L546.4 1442.7L547.0 1447.5L547.0 1452.3L550.2 1454.5L556.0 1452.6L557.6 1452.6 M555.4 1439.5L554.4 1442.7L552.8 1445.9L555.0 1448.1L557.6 1452.6 M557.6 1452.6L559.5 1450.7L563.7 1451.3 M565.6 1440.1L564.3 1442.7L565.0 1447.5L563.7 1451.3 M563.7 1451.3L569.1 1451.7L573.0 1445.9L573.3 1444.9 M709.9 1316.2L712.2 1316.2L717.3 1316.2L718.6 1317.4L716.3 1319.7L716.3 1322.7L716.0 1324.6L714.4 1325.0L716.0 1330.2L714.4 1332.8L714.7 1333.9 M732.6 1310.4L736.8 1312.8L740.6 1313.2L743.8 1313.9L748.6 1314.3 M762.4 1308.9L763.0 1307.3L760.5 1306.5L760.8 1303.4L760.2 1301.0L760.8 1300.6 M760.8 1300.6L760.2 1298.6L757.9 1299.4L757.9 1297.8L760.8 1294.1L762.7 1293.7 M762.7 1293.7L762.7 1290.1L764.6 1288.0L758.9 1285.9 M757.0 1285.9L753.8 1283.9L751.8 1283.9L748.6 1280.9L746.4 1279.2 M749.3 1278.0L752.2 1278.0L754.4 1277.5L757.0 1278.8L756.6 1280.5L757.6 1280.5 M757.6 1280.5L758.6 1282.6L757.9 1283.4L759.2 1284.7L758.9 1285.9L757.0 1285.9L757.0 1283.4L757.9 1283.4 M757.6 1280.5L757.9 1277.5L760.2 1275.8L760.8 1274.1L761.4 1270.2 M765.9 1262.8L769.8 1263.2 M783.8 1267.2L784.5 1270.2L785.4 1275.0L786.4 1279.7L785.8 1280.1 M785.8 1280.1L780.0 1281.8L777.4 1282.6L778.4 1285.1L782.6 1289.2 M782.6 1289.2L780.0 1290.9L780.0 1294.1L777.4 1293.3L773.6 1294.6L771.7 1294.1L769.1 1294.1 M769.1 1294.1L765.9 1293.3L762.7 1293.7 M760.8 1300.6L764.0 1300.2L765.6 1299.0L767.2 1300.6L768.2 1298.6L770.7 1299.0L772.0 1296.6 M772.0 1296.6L769.1 1295.8L769.1 1294.1 M772.0 1296.6L777.4 1296.2L778.1 1297.4L782.2 1298.2 M782.2 1298.2L781.9 1301.8 M782.2 1298.2L786.4 1297.8L789.9 1296.6 M789.9 1296.6L791.2 1294.1L793.1 1292.1 M782.6 1289.2L786.4 1288.0L792.5 1289.7L792.8 1289.7 M792.8 1289.7L793.1 1292.1 M785.8 1280.1L790.2 1281.3L792.5 1282.6L795.0 1282.6L798.6 1285.9 M798.6 1285.9L795.7 1288.4L792.8 1289.7 M798.6 1285.9L802.4 1286.8L810.4 1287.6 M793.1 1292.1L798.6 1292.9L804.0 1290.1L809.1 1290.5 M810.4 1287.6L809.1 1290.5 M810.4 1287.6L812.0 1283.9L815.2 1280.5L813.9 1277.5 M813.9 1277.5L813.9 1273.3L814.9 1267.2L813.6 1266.7 M813.6 1266.7L811.4 1265.0L801.8 1264.5 M811.4 1265.0L811.0 1262.3L806.6 1261.0 M805.9 1257.4L810.4 1256.0L816.8 1256.5L823.5 1259.2 M813.6 1266.7L818.4 1265.9L821.0 1262.8L823.5 1259.2 M816.5 1249.1L821.6 1249.6L826.1 1250.5 M823.5 1259.2L828.6 1256.9L826.1 1250.5 M826.1 1250.5L827.4 1246.4L828.0 1242.1 M828.6 1256.9L837.3 1259.6L840.2 1267.6L843.0 1269.4L839.2 1275.0L840.2 1275.0 M813.9 1277.5L820.0 1275.8L828.0 1277.1L836.0 1278.4L840.2 1275.0 M840.2 1275.0L847.2 1274.1L852.0 1282.2L860.0 1283.9L866.4 1285.5L865.4 1292.1L861.0 1295.4 M809.1 1290.5L811.7 1292.1L818.1 1293.3L823.5 1290.9 M823.5 1290.9L828.0 1290.5L831.8 1292.5L834.4 1298.6L828.6 1302.2 M823.5 1290.9L826.4 1294.1L828.6 1298.2L828.6 1302.2L833.4 1303.0 M811.7 1292.1L807.2 1297.4L803.4 1299.4 M803.4 1299.4L798.9 1300.6 M798.9 1300.6L794.4 1300.6L791.2 1298.2L789.9 1296.6 M790.6 1298.2L788.3 1299.4L787.4 1302.2L784.8 1302.2L781.9 1302.2 M789.0 1303.4L792.5 1303.4L799.2 1304.2L800.5 1304.6 M789.0 1303.4L789.0 1305.4L790.2 1307.3L794.7 1312.0L797.6 1313.5 M800.5 1304.6L799.8 1308.1L800.8 1309.7L798.2 1311.2L797.6 1313.5 M798.9 1300.6L799.5 1303.0L800.5 1304.6 M803.4 1299.4L806.9 1303.4L807.2 1305.0L810.4 1305.4L811.0 1307.3 M811.0 1307.3L812.0 1308.9L820.0 1309.3L824.8 1307.7L829.9 1309.3 M811.0 1307.3L810.1 1311.2L811.7 1312.4L810.1 1314.7 M810.1 1314.7L807.2 1314.7L804.3 1316.2 M800.2 1316.2L801.1 1313.5L802.7 1313.2L804.3 1316.2 M802.7 1313.2L799.8 1310.1 M802.7 1313.2L805.0 1310.8L808.2 1313.2L807.2 1314.7 M804.3 1316.2L804.0 1318.5L805.6 1320.1L803.4 1324.2L802.4 1324.6 M805.6 1320.1L811.7 1318.5 M810.1 1314.7L811.7 1318.5 M811.7 1318.5L816.8 1317.8L822.2 1317.0L822.9 1317.0 M822.9 1317.0L823.5 1318.5L821.6 1320.4 M822.9 1317.0L826.4 1315.9L828.0 1315.9 M774.2 1244.5L776.8 1239.3L778.4 1234.4L777.4 1231.0L777.4 1224.6L782.9 1219.5L784.8 1212.8L788.0 1207.5L790.9 1202.7L795.7 1198.3L802.7 1192.8L804.0 1192.2 M804.0 1192.2L810.1 1194.4L814.2 1193.9L818.4 1195.0L821.0 1192.8L821.6 1188.8L827.7 1186.5L832.2 1190.0L830.9 1192.8 M830.9 1192.8L837.0 1190.0L837.0 1188.2 M804.0 1192.2L807.2 1195.0L813.3 1198.3L814.2 1202.1L815.2 1206.5L815.5 1210.2 M830.9 1192.8L829.6 1197.2L834.4 1200.0L831.8 1204.3L834.4 1210.7L833.4 1215.4L836.0 1218.5L834.4 1221.0L839.2 1225.1L832.8 1232.0L827.4 1236.9 M866.4 1310.1L872.8 1311.2L878.6 1313.2L884.0 1313.9L887.2 1316.2L890.4 1318.5L893.6 1316.6 M871.2 1317.8L875.4 1317.8L877.6 1319.3 M877.6 1319.3L882.4 1318.9L887.2 1319.3L887.2 1316.2 M877.6 1319.3L878.2 1322.7L881.8 1324.6 M882.4 1318.9L884.0 1321.2L885.6 1325.0L887.2 1327.6 M881.8 1324.6L887.2 1327.6L892.0 1325.0L893.0 1327.2L894.9 1329.5 M881.8 1324.6L880.2 1328.0L880.2 1331.3L881.8 1333.9 M881.8 1333.9L874.1 1334.3 M874.1 1334.3L866.4 1335.4L860.0 1335.4L855.8 1337.6L853.6 1338.7 M874.1 1334.3L870.2 1336.5L869.6 1344.1L862.6 1347.7 M862.6 1347.7L856.2 1351.6L853.0 1350.2 M850.7 1348.8L852.3 1348.1L854.9 1345.6L855.2 1343.4L853.3 1343.4 M853.0 1350.2L852.0 1352.7L852.0 1355.2L850.4 1361.2 M850.4 1361.9L853.9 1362.6L858.4 1359.8L860.0 1358.0L856.8 1354.5L863.8 1352.0 M863.8 1352.0L862.6 1347.7 M863.8 1352.0L867.7 1353.1L872.8 1355.9L881.4 1362.6L887.2 1362.9 M887.2 1362.9L890.4 1359.8L892.0 1359.8 M887.2 1362.9L890.4 1363.6L893.3 1365.0 M881.8 1333.9L884.0 1338.3L885.6 1341.6L884.0 1345.6L885.6 1348.8L891.0 1352.7L891.0 1356.2L893.9 1360.1 M875.4 1405.8L877.0 1402.1L882.4 1402.5L888.8 1403.8L892.0 1399.8L895.2 1398.5L904.8 1397.2 M904.8 1397.2L908.3 1405.1 M904.8 1397.2L914.4 1393.9L916.6 1387.2L915.0 1384.8L906.7 1384.1L903.5 1380.1 M915.0 1384.8L917.0 1380.4L917.9 1378.0L918.9 1377.0 M901.0 1378.0L902.2 1378.4 M910.9 1333.5L914.4 1331.0L921.4 1330.2L928.2 1332.8L934.2 1336.1L934.2 1339.8 M934.2 1339.8L932.3 1344.5L933.3 1347.4L932.0 1350.9L935.8 1354.8L933.3 1360.1 M933.3 1360.1L936.2 1364.6L939.4 1369.5L940.6 1371.6L935.5 1376.3 M933.3 1360.1L938.4 1361.9L944.8 1361.5L950.6 1360.1L951.8 1355.5L956.0 1353.4L960.2 1353.1L962.4 1348.4L962.1 1345.6L965.9 1344.5L967.5 1340.1L966.2 1338.3L970.4 1335.4L975.2 1335.0L978.1 1333.9 M934.2 1339.8L938.4 1340.9L944.8 1337.2L951.2 1333.2L955.4 1333.9L960.2 1334.3L963.0 1332.4L967.2 1331.3L967.5 1335.8L973.0 1332.8L978.1 1333.9 M951.2 1333.2L944.8 1327.6L938.4 1323.5L933.6 1318.9L930.4 1316.6L925.6 1313.5L922.4 1315.9L920.5 1318.5L917.6 1318.5L917.6 1304.2 M917.6 1318.5L914.4 1318.5L911.8 1314.7L908.0 1315.5L906.4 1316.6 M917.6 1304.2L925.9 1301.8L933.6 1306.9L936.8 1310.1L946.1 1309.3L949.9 1312.0L949.6 1315.9L951.8 1318.9L956.0 1319.3L959.2 1318.2L965.3 1315.1 M965.3 1315.1L966.2 1312.8L973.6 1312.0L976.2 1311.2L981.0 1312.4L991.2 1312.8L995.0 1315.1 M955.4 1333.9L957.0 1330.2L956.0 1325.4L960.2 1322.7L964.0 1322.7L964.6 1319.7L965.3 1315.1 M964.6 1319.7L968.8 1318.9L972.0 1320.4L968.8 1322.0L964.0 1322.7 M960.2 1322.7L964.0 1323.9L967.8 1325.4L974.2 1325.4 M974.2 1325.4L977.8 1321.6L984.5 1319.7L989.3 1318.2L995.0 1315.1 M974.2 1325.4L974.6 1328.7L978.4 1332.8L978.1 1333.9 M895.8 1298.6L892.0 1292.9L888.8 1292.1L887.2 1290.1L888.8 1286.8L888.8 1282.6L894.6 1283.9L901.0 1276.7L906.4 1277.5L912.8 1279.7L916.6 1281.3L922.4 1279.7L928.8 1281.3L934.9 1280.5L930.4 1275.8L933.6 1274.1L933.0 1271.1L934.2 1267.2L940.0 1265.9L947.0 1265.0L956.6 1262.3L965.0 1261.0L966.2 1265.9L973.6 1266.7L973.3 1268.9L976.5 1268.5L983.2 1265.9L984.5 1267.2L988.0 1271.1L994.4 1280.5L999.2 1280.5L1005.3 1279.7L1011.4 1285.5L1016.2 1284.7L1017.8 1287.2 M1017.8 1287.2L1013.6 1290.5L1012.6 1295.0L1004.0 1295.4L1001.8 1302.2L996.0 1304.2L995.4 1312.0L995.0 1315.1 M1017.8 1287.2L1019.4 1287.2L1025.4 1284.3L1032.8 1280.5L1040.8 1283.0L1048.8 1284.7L1053.0 1281.8L1052.0 1275.0L1056.8 1276.3L1065.8 1278.4L1065.4 1282.2L1071.2 1283.0L1079.2 1282.2L1085.6 1286.4L1093.6 1286.4L1100.0 1284.7L1104.8 1282.6L1111.8 1284.3 M1019.4 1287.2L1022.6 1291.7L1028.0 1294.1L1029.6 1302.2L1037.6 1304.2L1044.0 1307.3L1046.9 1312.8L1058.4 1313.2L1064.8 1315.1L1074.4 1317.4L1082.4 1314.3L1090.4 1313.2L1096.5 1309.3L1096.5 1304.2L1103.2 1304.2L1108.0 1302.2L1111.2 1299.0L1121.4 1297.8L1121.8 1295.4L1116.0 1292.1L1109.0 1292.9L1109.0 1290.1L1111.8 1284.3 M1111.8 1284.3L1116.0 1285.5L1120.8 1281.8L1125.0 1274.5L1122.7 1272.4L1125.6 1269.8L1133.6 1268.9L1140.0 1271.1L1146.4 1282.6L1146.7 1284.7L1156.6 1288.4L1157.3 1293.3L1164.0 1291.7L1169.4 1290.9L1168.2 1294.6L1164.6 1303.4L1158.2 1304.6L1158.2 1310.1L1156.3 1314.3 M1156.3 1314.3L1153.8 1312.0L1148.0 1315.9L1148.6 1318.2L1144.5 1316.6L1141.6 1320.1L1136.5 1323.5 M1143.8 1331.7L1144.8 1329.8L1149.3 1328.7 M1084.0 1388.8L1080.8 1387.2L1079.5 1384.1L1075.7 1382.8L1073.8 1384.5L1070.6 1385.1L1066.4 1384.8L1065.1 1385.8 M1065.1 1385.8L1063.8 1389.8L1062.2 1388.8L1061.9 1387.8 M1061.9 1387.8L1059.0 1388.8L1055.8 1386.5L1056.8 1383.8L1054.2 1380.4L1051.0 1380.4L1054.2 1374.0L1054.2 1368.5L1050.4 1365.7 M1050.4 1365.7L1046.2 1362.2L1042.4 1362.6L1039.2 1366.7L1033.1 1367.4 M1033.1 1367.4L1026.4 1366.0L1022.9 1369.1 M1022.9 1369.1L1025.8 1371.2L1033.1 1370.5L1033.1 1367.4 M1022.9 1369.1L1020.3 1367.1 M1020.3 1367.1L1013.6 1366.7L1007.2 1362.6L1000.8 1358.7L997.6 1359.1 M997.6 1359.1L994.7 1364.0L1000.8 1367.1L1007.2 1368.8L1013.0 1371.6L1020.3 1372.2L1020.3 1367.1 M997.6 1359.1L992.8 1356.2L990.2 1354.5L989.3 1350.9L992.2 1349.9L990.9 1348.1L990.6 1344.1L994.4 1340.1L988.0 1340.1L984.8 1340.1L981.3 1336.1L978.1 1333.9 M956.6 1381.4L962.4 1379.7L965.6 1378.4L962.4 1373.6L960.8 1370.2L964.0 1366.7L971.4 1363.3L973.6 1359.8L977.1 1356.2L976.5 1352.7L979.4 1351.6L975.2 1349.2L974.6 1343.8L981.6 1343.0L987.4 1340.1 M1023.2 1387.2L1022.9 1383.1L1020.3 1378.4L1021.3 1373.6L1025.8 1373.6L1025.8 1376.0L1032.8 1376.7L1034.1 1377.4L1030.2 1380.4L1030.9 1383.5L1033.8 1383.8L1034.7 1387.5 M1034.7 1387.5L1037.0 1384.1L1037.3 1380.4L1041.1 1376.3L1043.0 1371.6L1048.8 1367.8L1050.4 1365.7 M1033.8 1391.5L1034.7 1387.5 M1054.2 1426.6L1056.8 1421.7L1055.5 1416.2L1052.6 1410.3L1053.9 1406.4L1050.1 1398.8L1052.0 1394.8L1058.7 1392.5 M1058.7 1392.5L1061.9 1387.8 M1058.7 1392.5L1060.0 1395.5L1062.2 1395.5L1061.6 1400.8L1065.4 1399.8L1069.0 1399.2L1073.4 1402.5L1073.8 1406.1L1076.0 1408.7L1076.3 1412.3L1075.0 1412.6 M1075.0 1412.6L1068.0 1412.6L1066.1 1414.9L1067.4 1419.1L1067.7 1421.1 M1065.1 1385.8L1067.7 1388.5L1070.6 1391.2L1072.8 1392.5L1071.2 1395.5L1075.0 1398.5L1079.5 1403.8L1082.4 1407.1L1082.4 1411.3 M1075.0 1412.6L1077.6 1413.9L1082.4 1411.3 M1082.4 1411.3L1082.7 1419.1L1077.6 1421.1L1077.6 1423.4L1074.4 1423.7L1072.8 1425.3 M1058.7 1438.2L1061.6 1440.1L1064.2 1440.1L1065.1 1438.8 M1089.1 1452.3L1089.4 1455.5L1092.0 1455.8L1096.2 1455.5L1099.7 1453.9L1103.2 1454.2L1106.1 1451.3L1106.7 1449.4L1108.3 1445.3L1114.7 1445.3 M1103.5 1444.0L1105.8 1445.9L1107.4 1443.0 M1138.1 1487.3L1139.0 1489.2 M1189.6 1467.0L1189.6 1487.9 M731.4 1341.6L733.0 1345.6L734.6 1351.6L728.8 1353.4L726.9 1357.3L722.4 1359.8L719.2 1361.2L710.6 1364.3L710.6 1367.8 M710.6 1367.8L696.2 1367.8 M710.6 1367.8L710.6 1373.6L700.0 1373.6L700.0 1382.5L696.8 1383.8L696.8 1389.5L684.0 1389.5 M710.6 1369.1L723.0 1377.0 M723.0 1377.0L717.6 1377.0L720.8 1405.4L721.4 1408.7L708.6 1408.7L703.5 1410.0L701.6 1408.4L699.4 1411.0 M699.4 1411.0L695.2 1406.7L692.0 1405.1L685.6 1407.1 M699.4 1411.0L701.9 1418.8 M684.6 1414.9L690.4 1414.3L694.2 1415.6L690.4 1415.9L685.0 1416.5 M685.0 1418.8L690.4 1417.8L694.6 1417.8L694.6 1419.1L701.9 1418.8 M694.6 1419.1L694.6 1421.1L690.4 1423.7 M701.9 1418.8L708.6 1418.8L712.2 1423.4L712.8 1425.9 M695.8 1429.8L698.7 1426.9L702.6 1426.6L704.5 1429.2L705.4 1431.4 M705.4 1431.4L708.3 1435.0L711.2 1434.3 M711.2 1434.3L713.8 1431.8L712.8 1425.9 M705.4 1431.4L701.6 1436.6 M711.2 1434.3L711.5 1437.9L714.4 1440.1L714.4 1444.6 M712.8 1425.9L718.6 1424.7L720.8 1425.3 M720.8 1425.3L724.0 1427.6L729.4 1427.9L729.8 1428.2 M729.8 1428.2L729.8 1433.4L728.2 1437.9L728.5 1442.4 M720.8 1425.3L721.8 1420.8L724.6 1416.5L729.1 1414.3L732.0 1411.7L736.2 1410.3L739.0 1410.3 M739.0 1410.3L742.6 1409.4L749.6 1409.0L751.8 1404.1L751.8 1396.8 M723.0 1377.0L742.2 1390.2L742.2 1391.5L748.6 1394.5L751.8 1396.8 M751.8 1396.8L757.0 1395.8L776.8 1382.1 M776.8 1382.1L770.1 1377.7L768.5 1372.9L770.4 1370.2L769.8 1363.3L768.8 1359.1 M768.8 1359.1L767.2 1352.4L762.4 1345.9L764.6 1342.0L765.0 1336.5L765.9 1335.0 M768.8 1359.1L771.4 1353.8L775.2 1351.3L775.2 1348.8 M776.8 1382.1L786.4 1383.8 M786.4 1383.8L815.2 1395.5 M815.2 1395.5L815.2 1393.9L818.4 1393.9L818.4 1387.2 M818.4 1387.2L818.4 1362.6L817.4 1359.1L819.0 1354.1 M818.4 1387.2L856.5 1387.2 M815.2 1395.5L815.2 1408.1L811.7 1408.7L810.1 1413.6L808.8 1417.8L810.4 1423.4L811.7 1423.4 M786.4 1383.8L789.3 1392.5L788.0 1404.1L781.6 1412.0L781.6 1414.6 M781.6 1414.6L776.8 1416.2L770.4 1415.9L764.0 1415.9L757.6 1414.6L751.8 1415.2L749.9 1421.1 M739.0 1410.3L739.7 1413.6L741.6 1415.9L745.4 1418.5L746.1 1420.1L749.9 1421.1 M746.1 1420.1L741.3 1423.4 M741.3 1423.4L738.4 1423.0 M738.4 1423.0L729.4 1423.4L729.8 1428.2 M738.4 1423.0L739.7 1426.6L740.0 1431.4L740.6 1436.3L742.2 1439.2 M741.3 1423.4L742.9 1428.2L743.5 1434.7L743.5 1438.8 M749.9 1421.1L750.6 1425.0L747.0 1431.4L747.0 1438.2 M781.6 1414.6L783.5 1416.9L784.8 1420.1L781.6 1425.0L778.4 1431.4L775.2 1436.9L770.4 1436.9L767.2 1439.8L765.9 1443.3 M783.5 1416.9L786.4 1420.1L786.4 1426.6L783.2 1426.6L788.0 1434.7 M788.0 1434.7L784.8 1439.5L785.1 1442.7L789.0 1448.8L789.9 1451.7 M788.0 1434.7L792.8 1434.0L797.9 1432.7L799.2 1429.8L805.6 1427.6L811.7 1423.4 M811.7 1423.4L813.9 1426.9L813.6 1430.8 M813.6 1430.8L816.8 1430.5L818.4 1425.6L824.8 1427.9L830.9 1428.2L834.4 1425.6L837.6 1427.2L843.0 1420.1L844.6 1419.5L844.6 1424.0L847.5 1428.2 M813.6 1430.8L817.8 1434.7L821.6 1437.9L826.1 1442.7 M855.2 1412.6L853.9 1417.8L850.7 1420.8L850.1 1424.0L848.2 1424.7L847.5 1428.2 M855.2 1412.6L855.2 1410.0L856.8 1403.8L861.9 1400.5 M855.2 1412.6L859.7 1410.7L863.2 1411.7L867.0 1412.3L871.2 1415.9L874.1 1418.5 M874.1 1418.5L876.3 1417.8 M874.1 1418.5L872.2 1421.4L872.2 1423.4L875.7 1423.7 M875.7 1423.7L877.0 1421.7 M875.7 1423.7L879.2 1429.8L888.8 1433.0L892.0 1433.0L882.4 1442.7L876.0 1443.6L872.8 1445.6L872.5 1446.2 M872.5 1446.2L869.0 1445.3L864.8 1447.8L860.3 1447.2L856.5 1444.6L853.3 1444.0 M847.5 1428.2L847.5 1431.1L844.0 1433.4L849.4 1437.2L851.4 1441.4L853.3 1444.0 M853.3 1444.0L847.2 1445.3L845.6 1446.5L840.8 1447.2L837.3 1447.5L833.4 1444.0L829.3 1444.9L826.1 1442.7 M872.5 1446.2L869.6 1449.7L869.6 1461.3L871.5 1464.1 M847.2 1445.3L848.8 1449.1L850.4 1453.3L847.2 1458.1L846.9 1461.9 M846.9 1461.9L858.7 1468.3L859.0 1469.9L863.8 1473.8 M837.3 1447.5L838.6 1451.7L834.1 1456.1L833.1 1463.2 M846.9 1461.9L836.0 1461.9 M833.1 1463.2L836.0 1461.9L837.3 1466.1L834.1 1467.3L831.2 1467.3L831.8 1463.8 M834.1 1467.3L837.0 1469.3L835.7 1472.8L832.5 1472.8L831.8 1469.3L831.2 1467.3 M832.5 1472.8L833.1 1477.9L836.0 1485.0L837.0 1485.3 M837.0 1485.3L843.7 1488.9L847.2 1489.2 M850.1 1496.0L855.2 1496.3L861.6 1495.3L867.7 1492.4 M843.7 1488.9L845.0 1493.4L844.6 1498.9L843.0 1502.5L844.6 1503.8L848.8 1505.4L853.3 1506.7L851.4 1513.9L848.2 1511.0L848.8 1507.1L849.1 1505.1 M850.1 1496.0L849.4 1498.9L852.0 1502.2L853.3 1506.7 M837.0 1485.3L830.9 1486.0L829.3 1488.5L829.9 1492.4L829.3 1497.3L833.8 1497.9L833.8 1501.8L829.3 1498.9L825.4 1496.0L819.4 1494.7L816.5 1495.3L815.2 1493.7 M815.2 1493.7L815.2 1500.5L808.8 1500.5L808.8 1511.0L813.3 1515.6 M844.6 1503.8L835.0 1507.1L835.7 1509.0 M835.7 1509.0L830.9 1510.3L824.8 1516.9L819.4 1516.3 M813.3 1515.6L819.4 1516.3 M835.7 1509.0L843.7 1512.6L844.0 1516.9L843.0 1520.2L844.0 1523.5L842.1 1527.9L838.6 1531.6 M819.4 1516.3L821.6 1521.9L827.0 1525.2L829.6 1528.9L832.5 1530.9 M832.5 1530.9L838.6 1531.6 M838.6 1531.6L840.8 1538.7L840.5 1543.1L841.1 1546.5L843.7 1546.9 M840.5 1543.1L837.6 1543.8L837.0 1546.5L838.6 1548.3L841.1 1546.5 M825.8 1555.9L829.6 1552.8L832.5 1555.2L830.6 1558.7L827.0 1559.7L824.8 1556.9L825.8 1555.9 M832.5 1530.9L824.8 1535.6L820.0 1542.1L812.0 1541.4L808.8 1545.5L804.6 1546.9L802.4 1539.7 M802.4 1539.7L802.4 1530.2L805.6 1530.2L805.6 1517.9L813.3 1516.9L816.8 1516.6L819.4 1516.3 M802.4 1539.7L802.4 1552.1L796.0 1553.8L791.2 1552.8 M776.2 1514.6L781.6 1513.6L783.2 1514.9L797.6 1514.9L805.6 1516.6L813.3 1515.6 M777.8 1477.9L780.0 1477.6L791.5 1477.6L792.8 1482.7L800.8 1481.1L800.8 1484.4L808.2 1482.1L808.8 1490.8L809.8 1494.7L815.2 1493.7 M777.4 1474.7L780.0 1473.4L779.4 1477.3 M780.3 1473.4L784.5 1474.4L787.4 1472.5L790.2 1465.7L795.4 1460.3L795.7 1453.9L797.9 1447.5 M797.9 1447.5L800.8 1442.4L805.6 1444.9L810.4 1445.6L816.8 1442.4L826.1 1442.7 M789.9 1451.7L791.2 1448.1L797.9 1447.5 M789.9 1451.7L784.8 1451.7L781.0 1451.7 M781.0 1451.7L784.8 1455.5L783.2 1460.3L784.8 1465.1L778.4 1466.1L775.2 1469.9L773.9 1471.2 M776.2 1471.2L780.3 1473.4 M781.0 1451.7L774.6 1451.7L769.8 1451.3 M774.6 1451.7L774.6 1455.5L769.1 1455.5 M833.1 1463.2L831.8 1463.8"/>
</g>
<g fill="#6b6b6b">
<circle cx="238.2" cy="1391.2" r="0.9"/>
<circle cx="232.8" cy="1388.8" r="0.9"/>
<circle cx="228.0" cy="1387.2" r="0.8"/>
<circle cx="541.6" cy="1406.4" r="1.0"/>
<circle cx="542.2" cy="1409.0" r="0.9"/>
<circle cx="543.2" cy="1411.7" r="1.0"/>
<circle cx="543.2" cy="1413.9" r="0.9"/>
<circle cx="548.0" cy="1416.2" r="0.9"/>
<circle cx="542.6" cy="1416.2" r="0.8"/>
<circle cx="541.0" cy="1419.8" r="0.8"/>
<circle cx="540.6" cy="1403.5" r="0.8"/>
<circle cx="537.4" cy="1402.8" r="0.8"/>
<circle cx="531.0" cy="1399.5" r="0.8"/>
<circle cx="536.8" cy="1400.2" r="0.7"/>
<circle cx="517.9" cy="1419.5" r="0.9"/>
<circle cx="514.4" cy="1418.5" r="0.8"/>
<circle cx="496.8" cy="1379.4" r="0.9"/>
<circle cx="503.2" cy="1390.5" r="0.9"/>
<circle cx="495.2" cy="1382.1" r="0.8"/>
<circle cx="1340.0" cy="1502.8" r="1.0"/>
<circle cx="1329.8" cy="1527.6" r="0.9"/>
<circle cx="1340.6" cy="1488.2" r="0.7"/>
<circle cx="1326.6" cy="1501.5" r="0.7"/>
<circle cx="922.7" cy="1524.2" r="1.1"/>
<circle cx="916.0" cy="1527.2" r="1.0"/>
<circle cx="916.0" cy="1473.4" r="0.8"/>
<circle cx="877.0" cy="1496.3" r="0.9"/>
<circle cx="883.0" cy="1499.9" r="0.8"/>
<circle cx="662.9" cy="1410.0" r="1.0"/>
<circle cx="660.6" cy="1405.1" r="0.7"/>
<circle cx="1201.8" cy="1415.2" r="0.9"/>
<circle cx="1168.8" cy="1434.7" r="0.8"/>
<circle cx="1204.6" cy="1409.7" r="0.7"/>
<circle cx="1244.6" cy="1436.6" r="0.8"/>
<circle cx="1224.2" cy="1435.0" r="0.7"/>
<circle cx="1260.0" cy="1441.7" r="0.7"/>
<circle cx="1035.4" cy="1420.1" r="0.9"/>
<circle cx="1035.7" cy="1416.2" r="0.8"/>
<circle cx="1147.4" cy="1371.9" r="0.9"/>
<circle cx="784.5" cy="1338.7" r="0.7"/>
</g>
<circle cx="347.1" cy="1293.9" r="2.5" fill="#ff9a84" fill-opacity="0.8" stroke="#f25a35" stroke-width="1.1"/>
<circle cx="348.3" cy="1330.5" r="2.5" fill="#ff9a84" fill-opacity="0.8" stroke="#f25a35" stroke-width="1.1"/>
<circle cx="490.4" cy="1326.8" r="2.5" fill="#ff9a84" fill-opacity="0.8" stroke="#f25a35" stroke-width="1.1"/>
<circle cx="500.3" cy="1321.5" r="2.5" fill="#ff9a84" fill-opacity="0.8" stroke="#f25a35" stroke-width="1.1"/>
<rect x="177.6" y="1074.4" width="38.6" height="75.6" fill="url(#btn2)" stroke="#cfcfcf" stroke-width="1.2" rx="3.5"/>
<line x1="177.6" y1="1112.4" x2="216.2" y2="1112.4" stroke="#d4d4d4" stroke-width="1.2" />
<path d="M192.0 1094.6h11.0M197.5 1089.1v11.0M192.6 1132.2h10.0" stroke="#111" stroke-width="1.7" fill="none"/>
<circle cx="730.8" cy="1710.1" r="8.6" fill="#ff9480" stroke="#f66e53" stroke-width="1.3"/>
<text class="h" x="751.8" y="1716.9" font-size="16.2" fill="#333" font-weight="bold" textLength="47.0" lengthAdjust="spacingAndGlyphs" stroke="#333" stroke-width="0.15">Cities</text>
<line x1="288.1" y1="1862.4" x2="288.1" y2="2020.7" stroke="#d9d9d9" stroke-width="1.3" />
<line x1="378.8" y1="1862.4" x2="378.8" y2="2020.7" stroke="#d9d9d9" stroke-width="1.3" />
<line x1="469.4" y1="1862.4" x2="469.4" y2="2020.7" stroke="#d9d9d9" stroke-width="1.3" />
<line x1="560.9" y1="1862.4" x2="560.9" y2="2020.7" stroke="#d9d9d9" stroke-width="1.3" />
<line x1="651.6" y1="1862.4" x2="651.6" y2="2020.7" stroke="#d9d9d9" stroke-width="1.3" />
<line x1="742.6" y1="1862.4" x2="742.6" y2="2020.7" stroke="#d9d9d9" stroke-width="1.3" />
<line x1="833.1" y1="1862.4" x2="833.1" y2="2020.7" stroke="#d9d9d9" stroke-width="1.3" />
<path d="M184.4 1862.4H196.9V2020.7H184.4" fill="none" stroke="#c3cfe0" stroke-width="1.5"/>
<rect x="197.5" y="1930.0" width="456.1" height="23.9" fill="#f79183" stroke="#fff" stroke-width="1.0" paint-order="stroke"/>
<rect x="197.5" y="1961.9" width="454.7" height="23.8" fill="#45cbdf" stroke="#fff" stroke-width="1.0" paint-order="stroke"/>
<text class="h" x="204.9" y="1917.2" font-size="14.2" fill="#1a1a1a" font-weight="bold" textLength="81.2" lengthAdjust="spacingAndGlyphs" stroke="#1a1a1a" stroke-width="0.15">0 ( 0.00% )</text>
<text class="h" x="663.5" y="1949.2" font-size="14.2" fill="#1a1a1a" font-weight="bold" textLength="109.5" lengthAdjust="spacingAndGlyphs" stroke="#1a1a1a" stroke-width="0.15">503 ( 15.17% )</text>
<text class="h" x="662.0" y="1980.2" font-size="14.2" fill="#1a1a1a" font-weight="bold" textLength="109.5" lengthAdjust="spacingAndGlyphs" stroke="#1a1a1a" stroke-width="0.15">502 ( 15.14% )</text>
<text class="h" x="196.9" y="2046.8" font-size="14.2" fill="#606060" text-anchor="middle" stroke="#606060" stroke-width="0.28">0</text>
<text class="h" x="288.1" y="2046.8" font-size="14.2" fill="#606060" text-anchor="middle" stroke="#606060" stroke-width="0.28">100</text>
<text class="h" x="378.8" y="2046.8" font-size="14.2" fill="#606060" text-anchor="middle" stroke="#606060" stroke-width="0.28">200</text>
<text class="h" x="469.4" y="2046.8" font-size="14.2" fill="#606060" text-anchor="middle" stroke="#606060" stroke-width="0.28">300</text>
<text class="h" x="560.9" y="2046.8" font-size="14.2" fill="#606060" text-anchor="middle" stroke="#606060" stroke-width="0.28">400</text>
<text class="h" x="651.6" y="2046.8" font-size="14.2" fill="#606060" text-anchor="middle" stroke="#606060" stroke-width="0.28">500</text>
<text class="h" x="742.6" y="2046.8" font-size="14.2" fill="#606060" text-anchor="middle" stroke="#606060" stroke-width="0.28">600</text>
<text class="h" x="819.6" y="2046.8" font-size="14.2" fill="#606060" text-anchor="middle" stroke="#606060" stroke-width="0.28">700</text>
<text class="h" x="516.2" y="2073.0" font-size="15.2" fill="#666" font-weight="bold" text-anchor="middle" textLength="53.5" lengthAdjust="spacingAndGlyphs" stroke="#666" stroke-width="0.15">Traffic</text>
<line x1="1092.1" y1="1862.4" x2="1092.1" y2="2020.7" stroke="#d9d9d9" stroke-width="1.3" />
<line x1="1172.3" y1="1862.4" x2="1172.3" y2="2020.7" stroke="#d9d9d9" stroke-width="1.3" />
<line x1="1253.0" y1="1862.4" x2="1253.0" y2="2020.7" stroke="#d9d9d9" stroke-width="1.3" />
<line x1="1334.0" y1="1862.4" x2="1334.0" y2="2020.7" stroke="#d9d9d9" stroke-width="1.3" />
<line x1="1414.6" y1="1862.4" x2="1414.6" y2="2020.7" stroke="#d9d9d9" stroke-width="1.3" />
<line x1="1493.7" y1="1862.4" x2="1493.7" y2="2020.7" stroke="#d9d9d9" stroke-width="1.3" />
<line x1="1576.9" y1="1862.4" x2="1576.9" y2="2020.7" stroke="#d9d9d9" stroke-width="1.3" />
<path d="M998.9 1862.4H1011.4V2020.7H998.9" fill="none" stroke="#c3cfe0" stroke-width="1.5"/>
<rect x="1012.0" y="1930.0" width="481.4" height="23.7" fill="#f79183" stroke="#fff" stroke-width="1.0" paint-order="stroke"/>
<rect x="1012.0" y="1961.9" width="320.8" height="24.0" fill="#45cbdf" stroke="#fff" stroke-width="1.0" paint-order="stroke"/>
<text class="h" x="1019.0" y="1914.9" font-size="14.2" fill="#1a1a1a" font-weight="bold" textLength="10.0" lengthAdjust="spacingAndGlyphs" stroke="#1a1a1a" stroke-width="0.15">0</text>
<text class="h" x="1502.0" y="1947.2" font-size="14.2" fill="#1a1a1a" font-weight="bold" textLength="10.0" lengthAdjust="spacingAndGlyphs" stroke="#1a1a1a" stroke-width="0.15">3</text>
<text class="h" x="1341.9" y="1978.2" font-size="14.2" fill="#1a1a1a" font-weight="bold" textLength="10.0" lengthAdjust="spacingAndGlyphs" stroke="#1a1a1a" stroke-width="0.15">2</text>
<text class="h" x="1011.4" y="2046.8" font-size="14.2" fill="#606060" text-anchor="middle" stroke="#606060" stroke-width="0.28">0</text>
<text class="h" x="1092.1" y="2046.8" font-size="14.2" fill="#606060" text-anchor="middle" stroke="#606060" stroke-width="0.28">0.5</text>
<text class="h" x="1172.3" y="2046.8" font-size="14.2" fill="#606060" text-anchor="middle" stroke="#606060" stroke-width="0.28">1</text>
<text class="h" x="1253.0" y="2046.8" font-size="14.2" fill="#606060" text-anchor="middle" stroke="#606060" stroke-width="0.28">1.5</text>
<text class="h" x="1334.0" y="2046.8" font-size="14.2" fill="#606060" text-anchor="middle" stroke="#606060" stroke-width="0.28">2</text>
<text class="h" x="1414.6" y="2046.8" font-size="14.2" fill="#606060" text-anchor="middle" stroke="#606060" stroke-width="0.28">2.5</text>
<text class="h" x="1493.7" y="2046.8" font-size="14.2" fill="#606060" text-anchor="middle" stroke="#606060" stroke-width="0.28">3</text>
<text class="h" x="1563.2" y="2046.8" font-size="14.2" fill="#606060" text-anchor="middle" stroke="#606060" stroke-width="0.28">3.5</text>
<text class="h" x="1293.5" y="2073.0" font-size="15.2" fill="#666" font-weight="bold" text-anchor="middle" textLength="146.0" lengthAdjust="spacingAndGlyphs" stroke="#666" stroke-width="0.15">IP Address Count</text>
<rect x="873.2" y="1882.0" width="22.0" height="15.8" fill="#93ad8d"/>
<text class="h" x="902.6" y="1896.8" font-size="16.2" fill="#333" font-weight="bold" textLength="67.0" lengthAdjust="spacingAndGlyphs" stroke="#333" stroke-width="0.15">Allowed</text>
<rect x="873.2" y="1919.3" width="22.0" height="15.8" fill="#f79183"/>
<text class="h" x="902.6" y="1934.1" font-size="16.2" fill="#333" font-weight="bold" textLength="65.5" lengthAdjust="spacingAndGlyphs" stroke="#333" stroke-width="0.15">Blocked</text>
<rect x="873.2" y="1955.7" width="22.0" height="15.8" fill="#45cbdf"/>
<text class="h" x="902.6" y="1970.5" font-size="16.2" fill="#333" font-weight="bold" textLength="66.0" lengthAdjust="spacingAndGlyphs" stroke="#333" stroke-width="0.15">Flagged</text>
<text class="g" x="1722.0" y="227.2" font-size="34.5" fill="#000" textLength="335.4" lengthAdjust="spacingAndGlyphs">Percentage increase in</text>
<text class="g" x="1722.0" y="269.0" font-size="34.5" fill="#000" textLength="328.2" lengthAdjust="spacingAndGlyphs">bot traffic on this day.</text>
<text class="g" x="1722.6" y="481.9" font-size="34.5" fill="#000" textLength="409.6" lengthAdjust="spacingAndGlyphs">Traffic for each hour of the</text>
<text class="g" x="1722.6" y="523.4" font-size="34.5" fill="#000" textLength="458.4" lengthAdjust="spacingAndGlyphs">selected date (from the top of</text>
<text class="g" x="1722.6" y="564.5" font-size="34.5" fill="#000" textLength="413.4" lengthAdjust="spacingAndGlyphs">the page). The middle graph</text>
<text class="g" x="1722.6" y="606.0" font-size="34.5" fill="#000" textLength="459.6" lengthAdjust="spacingAndGlyphs">shows the number of requests</text>
<text class="g" x="1722.6" y="647.9" font-size="34.5" fill="#000" textLength="408.7" lengthAdjust="spacingAndGlyphs">that came from clients that</text>
<text class="g" x="1722.6" y="689.4" font-size="34.5" fill="#000" textLength="440.7" lengthAdjust="spacingAndGlyphs">might be bots. The right-hand</text>
<text class="g" x="1722.6" y="731.2" font-size="34.5" fill="#000" textLength="450.2" lengthAdjust="spacingAndGlyphs">chart shows the total number</text>
<text class="g" x="1722.6" y="772.7" font-size="34.5" fill="#000" textLength="430.7" lengthAdjust="spacingAndGlyphs">of clients that might be bots.</text>
<text class="g" x="1722.6" y="814.2" font-size="34.5" fill="#000" textLength="406.4" lengthAdjust="spacingAndGlyphs">You can hover your mouse</text>
<text class="g" x="1722.6" y="855.0" font-size="34.5" fill="#000" textLength="420.4" lengthAdjust="spacingAndGlyphs">pointer over the graph lines</text>
<text class="g" x="1722.6" y="896.8" font-size="34.5" fill="#000" textLength="455.2" lengthAdjust="spacingAndGlyphs">to see detailed request or bot</text>
<text class="g" x="1722.6" y="938.3" font-size="34.5" fill="#000" textLength="106.9" lengthAdjust="spacingAndGlyphs">counts.</text>
<text class="g" x="1724.2" y="1243.8" font-size="34.5" fill="#000" textLength="364.0" lengthAdjust="spacingAndGlyphs">Location of cities where</text>
<text class="g" x="1724.2" y="1285.3" font-size="34.5" fill="#000" textLength="397.6" lengthAdjust="spacingAndGlyphs">client requests are coming</text>
<text class="g" x="1724.2" y="1326.8" font-size="34.5" fill="#000" textLength="373.1" lengthAdjust="spacingAndGlyphs">from. Hover your mouse</text>
<text class="g" x="1724.2" y="1368.6" font-size="34.5" fill="#000" textLength="411.8" lengthAdjust="spacingAndGlyphs">over a city location to view</text>
<text class="g" x="1724.2" y="1410.1" font-size="34.5" fill="#000" textLength="410.2" lengthAdjust="spacingAndGlyphs">the number of requests for</text>
<text class="g" x="1724.2" y="1451.3" font-size="34.5" fill="#000" textLength="374.7" lengthAdjust="spacingAndGlyphs">each IP originating there.</text>
<text class="g" x="1730.5" y="1927.0" font-size="34.5" fill="#000" textLength="347.3" lengthAdjust="spacingAndGlyphs">How requests stack up</text>
<text class="g" x="1730.5" y="1968.5" font-size="34.5" fill="#000" textLength="439.1" lengthAdjust="spacingAndGlyphs">against bot protection you've</text>
<text class="g" x="1730.5" y="2010.3" font-size="34.5" fill="#000" textLength="131.1" lengthAdjust="spacingAndGlyphs">assigned.</text>
<line x1="1629.2" y1="220.3" x2="1701.2" y2="229.1" stroke="#60a4d8" stroke-width="2.0" />
<line x1="1628.6" y1="679.3" x2="1702.2" y2="684.0" stroke="#60a4d8" stroke-width="2.0" />
<line x1="1628.6" y1="1405.1" x2="1702.8" y2="1407.3" stroke="#60a4d8" stroke-width="2.0" />
<line x1="1628.6" y1="1979.5" x2="1710.0" y2="1973.2" stroke="#60a4d8" stroke-width="2.0" />
<text class="l" x="751.9" y="2155.0" font-size="14.2" fill="#333" textLength="264.0" lengthAdjust="spacingAndGlyphs" stroke="#333" stroke-width="0.15">© 2016 Apigee Corp. All rights reserved.</text>
<path d="M1766.2 2166v7.5h-8z" fill="#111"/><path d="M0 2167v6.5h6z" fill="#111"/>
</svg>
</body></html>
